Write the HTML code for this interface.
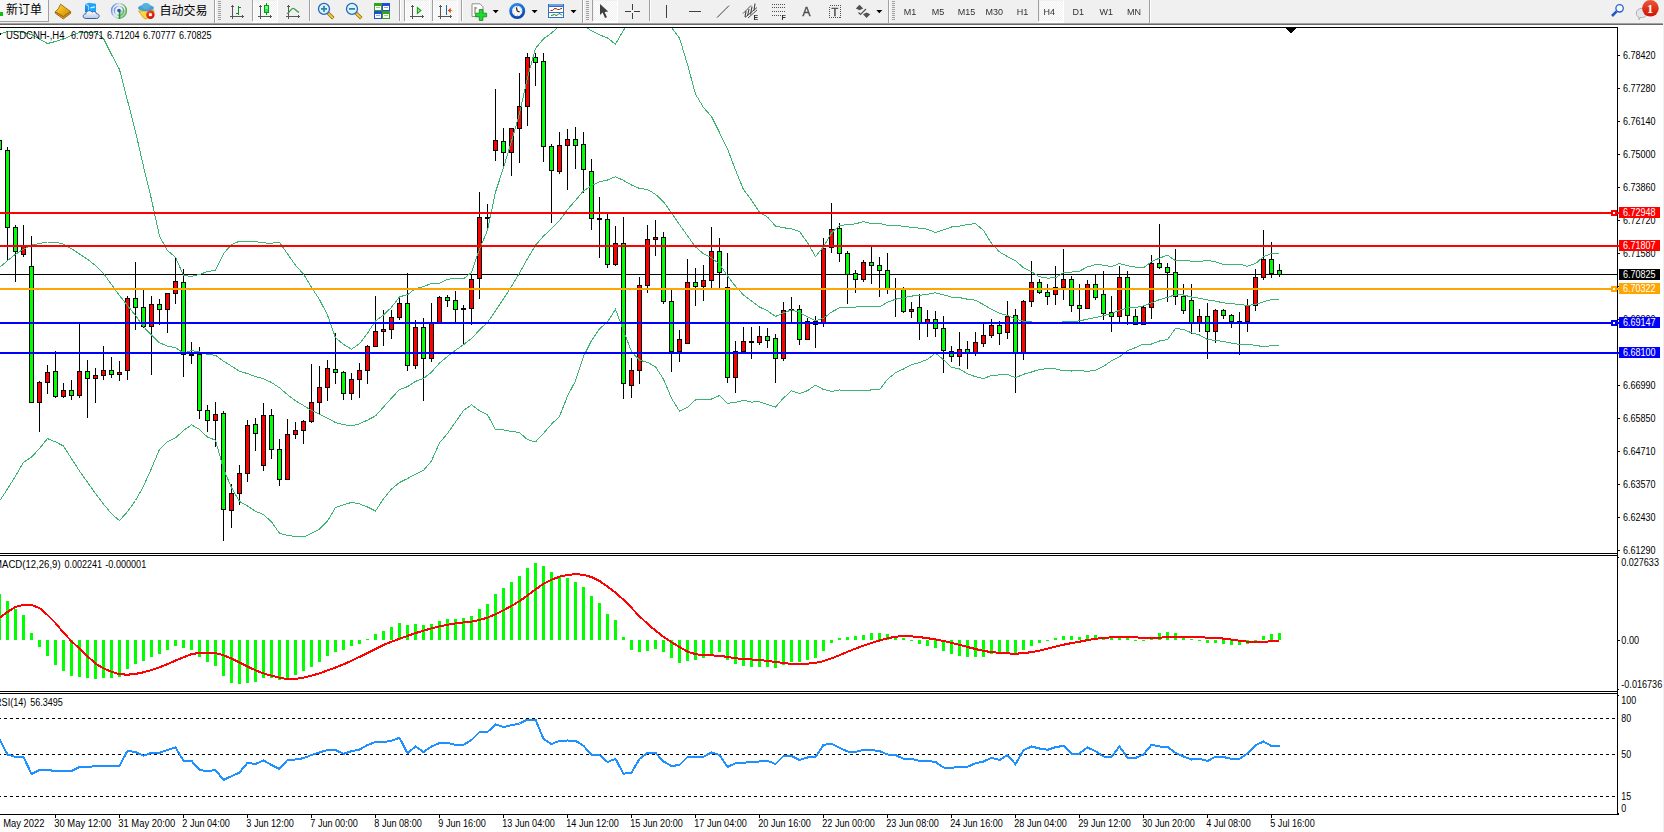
<!DOCTYPE html>
<html><head><meta charset="utf-8"><title>USDCNH H4</title>
<style>
html,body{margin:0;padding:0;background:#fff;}
body{width:1664px;height:832px;overflow:hidden;font-family:"Liberation Sans","Noto Sans CJK SC",sans-serif;}
svg{display:block}
svg text{font-family:"Liberation Sans","Noto Sans CJK SC",sans-serif;}
</style></head><body>
<svg width="1664" height="832" viewBox="0 0 1664 832">
<defs>
<clipPath id="cmain"><rect x="0" y="28" width="1617" height="525"/></clipPath>
<clipPath id="cmacd"><rect x="0" y="556" width="1617" height="135"/></clipPath>
<pattern id="chk" width="2" height="2" patternUnits="userSpaceOnUse"><rect width="2" height="2" fill="#F0F0F0"/><rect width="1" height="1" fill="#FFFFFF"/><rect x="1" y="1" width="1" height="1" fill="#FFFFFF"/></pattern>
<clipPath id="crsi"><rect x="0" y="694" width="1617" height="120"/></clipPath>
</defs>
<rect x="0" y="0" width="1664" height="832" fill="#fff"/>
<rect x="0" y="0" width="1664" height="23" fill="#F0F0F0"/>
<rect x="0" y="23" width="1664" height="1" fill="#A0A0A0"/>
<rect x="0" y="24" width="1664" height="1" fill="#696969"/>
<rect x="0" y="25" width="1664" height="2" fill="#FFFFFF"/>
<g shape-rendering="crispEdges">
<rect x="-2" y="0" width="50" height="21" fill="#F6F6F6"/>
<rect x="48" y="0" width="1" height="22" fill="#A0A0A0"/>
<rect x="0" y="21" width="49" height="1" fill="#A0A0A0"/>
<rect x="0" y="12" width="3" height="4" fill="#10C010"/>
<rect x="214" y="0" width="1" height="23" fill="#A0A0A0"/>
<rect x="215" y="0" width="1" height="23" fill="#FFFFFF"/>
<rect x="218" y="1" width="3" height="1" fill="#A0A0A0"/>
<rect x="218" y="3" width="3" height="1" fill="#A0A0A0"/>
<rect x="218" y="5" width="3" height="1" fill="#A0A0A0"/>
<rect x="218" y="7" width="3" height="1" fill="#A0A0A0"/>
<rect x="218" y="9" width="3" height="1" fill="#A0A0A0"/>
<rect x="218" y="11" width="3" height="1" fill="#A0A0A0"/>
<rect x="218" y="13" width="3" height="1" fill="#A0A0A0"/>
<rect x="218" y="15" width="3" height="1" fill="#A0A0A0"/>
<rect x="218" y="17" width="3" height="1" fill="#A0A0A0"/>
<rect x="218" y="19" width="3" height="1" fill="#A0A0A0"/>
<rect x="252" y="0" width="1" height="21" fill="#A0A0A0"/>
<rect x="253" y="0" width="1" height="21" fill="#FFFFFF"/>
<rect x="254" y="1" width="23" height="20" fill="url(#chk)"/>
<rect x="277" y="0" width="1" height="23" fill="#FFFFFF"/>
<rect x="253" y="21" width="25" height="2" fill="#FFFFFF"/>
<rect x="309" y="0" width="1" height="21" fill="#A0A0A0"/>
<rect x="310" y="0" width="1" height="21" fill="#FFFFFF"/>
<rect x="399" y="0" width="1" height="21" fill="#A0A0A0"/>
<rect x="400" y="0" width="1" height="21" fill="#FFFFFF"/>
<rect x="404" y="0" width="1" height="21" fill="#A0A0A0"/>
<rect x="405" y="0" width="1" height="21" fill="#FFFFFF"/>
<rect x="406" y="1" width="23" height="20" fill="url(#chk)"/>
<rect x="429" y="0" width="1" height="23" fill="#FFFFFF"/>
<rect x="405" y="21" width="25" height="2" fill="#FFFFFF"/>
<rect x="432" y="0" width="1" height="21" fill="#A0A0A0"/>
<rect x="433" y="0" width="1" height="21" fill="#FFFFFF"/>
<rect x="434" y="1" width="23" height="20" fill="url(#chk)"/>
<rect x="457" y="0" width="1" height="23" fill="#FFFFFF"/>
<rect x="433" y="21" width="25" height="2" fill="#FFFFFF"/>
<rect x="461" y="0" width="1" height="21" fill="#A0A0A0"/>
<rect x="462" y="0" width="1" height="21" fill="#FFFFFF"/>
<rect x="582" y="0" width="1" height="23" fill="#A0A0A0"/>
<rect x="583" y="0" width="1" height="23" fill="#FFFFFF"/>
<rect x="586" y="1" width="3" height="1" fill="#A0A0A0"/>
<rect x="586" y="3" width="3" height="1" fill="#A0A0A0"/>
<rect x="586" y="5" width="3" height="1" fill="#A0A0A0"/>
<rect x="586" y="7" width="3" height="1" fill="#A0A0A0"/>
<rect x="586" y="9" width="3" height="1" fill="#A0A0A0"/>
<rect x="586" y="11" width="3" height="1" fill="#A0A0A0"/>
<rect x="586" y="13" width="3" height="1" fill="#A0A0A0"/>
<rect x="586" y="15" width="3" height="1" fill="#A0A0A0"/>
<rect x="586" y="17" width="3" height="1" fill="#A0A0A0"/>
<rect x="586" y="19" width="3" height="1" fill="#A0A0A0"/>
<rect x="592" y="0" width="1" height="21" fill="#A0A0A0"/>
<rect x="594" y="1" width="23" height="20" fill="url(#chk)"/>
<rect x="617" y="0" width="1" height="23" fill="#FFFFFF"/>
<rect x="593" y="21" width="25" height="2" fill="#FFFFFF"/>
<rect x="649" y="0" width="1" height="21" fill="#A0A0A0"/>
<rect x="650" y="0" width="1" height="21" fill="#FFFFFF"/>
<rect x="888" y="0" width="1" height="23" fill="#A0A0A0"/>
<rect x="889" y="0" width="1" height="23" fill="#FFFFFF"/>
<rect x="892" y="1" width="3" height="1" fill="#A0A0A0"/>
<rect x="892" y="3" width="3" height="1" fill="#A0A0A0"/>
<rect x="892" y="5" width="3" height="1" fill="#A0A0A0"/>
<rect x="892" y="7" width="3" height="1" fill="#A0A0A0"/>
<rect x="892" y="9" width="3" height="1" fill="#A0A0A0"/>
<rect x="892" y="11" width="3" height="1" fill="#A0A0A0"/>
<rect x="892" y="13" width="3" height="1" fill="#A0A0A0"/>
<rect x="892" y="15" width="3" height="1" fill="#A0A0A0"/>
<rect x="892" y="17" width="3" height="1" fill="#A0A0A0"/>
<rect x="892" y="19" width="3" height="1" fill="#A0A0A0"/>
<rect x="1038" y="0" width="1" height="21" fill="#A0A0A0"/>
<rect x="1040" y="1" width="23" height="20" fill="url(#chk)"/>
<rect x="1063" y="0" width="1" height="23" fill="#FFFFFF"/>
<rect x="1039" y="21" width="25" height="2" fill="#FFFFFF"/>
<rect x="1149" y="0" width="1" height="23" fill="#A0A0A0"/>
<rect x="1150" y="0" width="1" height="23" fill="#FFFFFF"/>
</g>
<defs><filter id="idf" x="-0.2" y="-0.2" width="1.4" height="1.4" filterUnits="objectBoundingBox"><feOffset dx="0" dy="0"/></filter></defs>
<text x="6" y="13.5" font-size="12" fill="#000">新订单</text>
<text x="159.5" y="14.5" font-size="12" fill="#000">自动交易</text>
<defs><linearGradient id="gold" x1="0" y1="0" x2="1" y2="1"><stop offset="0" stop-color="#FFE060"/><stop offset="0.5" stop-color="#E8B010"/><stop offset="1" stop-color="#C88A10"/></linearGradient><linearGradient id="cloudg" x1="0" y1="0" x2="0" y2="1"><stop offset="0" stop-color="#FFFFFF"/><stop offset="1" stop-color="#B8C8E0"/></linearGradient><linearGradient id="blueg" x1="0" y1="0" x2="0" y2="1"><stop offset="0" stop-color="#30A8FF"/><stop offset="1" stop-color="#0080F0"/></linearGradient><radialGradient id="redg" cx="0.4" cy="0.35" r="0.7"><stop offset="0" stop-color="#FF5030"/><stop offset="1" stop-color="#C01000"/></radialGradient><linearGradient id="grn" x1="0" y1="0" x2="1" y2="0"><stop offset="0" stop-color="#20D030"/><stop offset="0.5" stop-color="#90FF90"/><stop offset="1" stop-color="#20D030"/></linearGradient></defs>
<path d="M55.3,13.2 L63.3,18.9 L70.6,13.4 L70.6,11.6 L63.3,16.8 L55.3,11.6 Z" fill="#D8A028" stroke="#9A5C08" stroke-width="0.9"/>
<path d="M60.6,4.2 L70.4,11.4 L63.3,16.6 L55.4,11.8 Q58.6,9.5 60.6,4.2 Z" fill="url(#gold)" stroke="#A0640A" stroke-width="0.9"/>
<path d="M85,4 L89,2.8 L96,3.8 L96,12 L85,12 Z" fill="url(#blueg)"/>
<path d="M85.4,4.4 L88.4,5.6 L88.4,12" fill="none" stroke="#D0F0FF" stroke-width="0.9"/>
<path d="M88.8,5.8 L96,4.6 L96,12 L88.8,12 Z" fill="#18A8FF"/><path d="M90.5,7.8 L94.8,6.8" stroke="#E0F4FF" stroke-width="1.3"/>
<path d="M85.8,18.5 C82.3,18.5 82.3,14 85.8,13.8 C86,10.6 90.6,9.6 92,12.2 C93.6,10.8 96.6,11.6 96.4,13.8 C99.9,13.4 100.2,18.5 96.6,18.5 Z" fill="url(#cloudg)" stroke="#3A60A8" stroke-width="1"/>
<defs><linearGradient id="sigg" x1="0" y1="0" x2="1" y2="0.35"><stop offset="0" stop-color="#2C5CD8"/><stop offset="0.45" stop-color="#C8DCF0"/><stop offset="1" stop-color="#3E9A48"/></linearGradient></defs>
<g fill="none" stroke="url(#sigg)" stroke-width="1.5"><circle cx="119" cy="10.8" r="7.4" opacity="0.85"/><circle cx="119" cy="10.8" r="4.6" opacity="0.8"/></g>
<path d="M119.6,11 L126.6,9.5 A7.6,7.6 0 0 1 119.6,18.6 Z" fill="#7CC080" opacity="0.55"/>
<rect x="118.8" y="11" width="1.5" height="7.8" fill="#18A018"/>
<circle cx="119" cy="10.6" r="1.8" fill="#2456D8"/>
<path d="M138.5,11 L154,10.5 L153.5,14 L146,19 L144,18.5 Z" fill="#F8D840" stroke="#C8A010" stroke-width="0.8"/>
<ellipse cx="146" cy="8" rx="8" ry="3.2" fill="#48A0D0"/><ellipse cx="146" cy="6" rx="4" ry="3" fill="#58B0E0"/>
<circle cx="150.4" cy="14.7" r="4.2" fill="url(#redg)"/><rect x="149" y="13.3" width="2.8" height="2.8" fill="#fff"/>
<g shape-rendering="crispEdges">
<g fill="#555555"><rect x="232" y="5" width="1" height="14"/><rect x="231" y="6" width="3" height="1"/><rect x="230" y="16" width="14" height="1"/><rect x="242" y="15" width="1" height="3"/></g>
<g fill="#109020"><rect x="238" y="6" width="1" height="9"/><rect x="239" y="7" width="2" height="1"/><rect x="236" y="13" width="2" height="1"/></g>
<g fill="#555555"><rect x="260" y="5" width="1" height="14"/><rect x="259" y="6" width="3" height="1"/><rect x="258" y="16" width="14" height="1"/><rect x="270" y="15" width="1" height="3"/></g>
<rect x="266" y="3" width="1" height="12" fill="#00A010"/><rect x="264" y="5" width="5" height="8" fill="#00A010"/><rect x="265" y="6" width="3" height="3" fill="#78F888"/><rect x="265" y="9" width="3" height="3" fill="#30E850"/>
<g fill="#555555"><rect x="288" y="5" width="1" height="14"/><rect x="287" y="6" width="3" height="1"/><rect x="286" y="16" width="14" height="1"/><rect x="298" y="15" width="1" height="3"/></g>
</g>
<path d="M287,13.8 C290,12 291,8.3 293,8.3 C295,8.3 296,11 299,12.3" fill="none" stroke="#30A040" stroke-width="1.3"/>
<line x1="328" y1="13" x2="333.3" y2="18.3" stroke="#A07008" stroke-width="3.4" stroke-linecap="butt"/>
<line x1="328.3" y1="13.3" x2="332.8" y2="17.8" stroke="#F0D040" stroke-width="1.8"/>
<circle cx="324" cy="8.9" r="5.5" fill="#D8F4FF" stroke="#2868B8" stroke-width="1.3"/>
<rect x="321" y="8" width="6" height="1.8" fill="#3880A8"/>
<rect x="323.1" y="5.9" width="1.8" height="6" fill="#3880A8"/>
<line x1="356" y1="13" x2="361.3" y2="18.3" stroke="#A07008" stroke-width="3.4" stroke-linecap="butt"/>
<line x1="356.3" y1="13.3" x2="360.8" y2="17.8" stroke="#F0D040" stroke-width="1.8"/>
<circle cx="352" cy="8.9" r="5.5" fill="#D8F4FF" stroke="#2868B8" stroke-width="1.3"/>
<rect x="349" y="8" width="6" height="1.8" fill="#3880A8"/>
<g shape-rendering="crispEdges">
<rect x="374" y="3" width="8" height="8" fill="#38A020"/><rect x="375" y="6" width="6" height="4" fill="#fff"/><rect x="376" y="7" width="4" height="1" fill="#38A020" opacity="0.5"/>
<rect x="382" y="3" width="8" height="8" fill="#2050D0"/><rect x="383" y="6" width="6" height="4" fill="#fff"/><rect x="384" y="7" width="4" height="1" fill="#2050D0" opacity="0.5"/>
<rect x="374" y="11" width="8" height="8" fill="#2050D0"/><rect x="375" y="14" width="6" height="4" fill="#fff"/><rect x="376" y="15" width="4" height="1" fill="#2050D0" opacity="0.5"/>
<rect x="382" y="11" width="8" height="8" fill="#38A020"/><rect x="383" y="14" width="6" height="4" fill="#fff"/><rect x="384" y="15" width="4" height="1" fill="#38A020" opacity="0.5"/>
<g fill="#555555"><rect x="412" y="5" width="1" height="14"/><rect x="411" y="6" width="3" height="1"/><rect x="410" y="16" width="14" height="1"/><rect x="422" y="15" width="1" height="3"/></g>
<g fill="#555555"><rect x="440" y="5" width="1" height="14"/><rect x="439" y="6" width="3" height="1"/><rect x="438" y="16" width="14" height="1"/><rect x="450" y="15" width="1" height="3"/></g>
<rect x="446" y="5" width="1" height="10" fill="#1070A0"/>
</g>
<polygon points="417.4,7.6 420.8,10.5 417.4,13.4" fill="#A8F0A8" stroke="#10A010" stroke-width="1.1"/>
<polygon points="447.8,10.5 451,7.8 450.5,10 453,10.5 450.5,11 451,13.2" fill="#E04000"/>
<path d="M472,3.8 L480,3.8 L483,6.8 L483,16.5 L472,16.5 Z" fill="#FCFCFC" stroke="#909090" stroke-width="1"/>
<path d="M475,7 v7 M475,8 h2" stroke="#605030" stroke-width="0.8" fill="none"/>
<path d="M479.3,9.5 h3.6 v3.7 h3.7 v3.6 h-3.7 v3.7 h-3.6 v-3.7 h-3.7 v-3.6 h3.7 Z" fill="#20D830" stroke="#108818" stroke-width="0.8"/>
<polygon points="492.7,10 498.7,10 495.7,13.2" fill="#000"/>
<defs><linearGradient id="clk" x1="0" y1="0" x2="0.3" y2="1"><stop offset="0" stop-color="#2C8CF0"/><stop offset="1" stop-color="#0A48B0"/></linearGradient></defs>
<circle cx="517.2" cy="11" r="6.6" fill="#FCFCFC" stroke="url(#clk)" stroke-width="2.8"/>
<g fill="#9098A8"><rect x="516.8" y="6.2" width="0.9" height="1"/><rect x="516.8" y="14.8" width="0.9" height="1"/><rect x="512.6" y="10.6" width="1" height="0.9"/><rect x="520.9" y="10.6" width="1" height="0.9"/><rect x="514" y="7.6" width="0.8" height="0.8"/><rect x="519.8" y="7.6" width="0.8" height="0.8"/><rect x="514" y="13.6" width="0.8" height="0.8"/><rect x="519.8" y="13.6" width="0.8" height="0.8"/></g>
<path d="M517.2,11.2 L516.4,7.4 M517.2,11.2 L519.6,11.8" stroke="#282828" stroke-width="1.3" fill="none"/>
<polygon points="531.6,10 537.6,10 534.6,13.2" fill="#000"/>
<g shape-rendering="crispEdges"><rect x="548" y="4" width="16" height="14" fill="#3070C0"/><rect x="549" y="4" width="14" height="2" fill="#70A0E0"/><rect x="549" y="7" width="14" height="5" fill="#fff"/><rect x="549" y="13" width="14" height="4" fill="#fff"/></g>
<path d="M550.5,10.5 L552.5,10.5 L554,8.8 L556,8.5 L557.5,9.5 L559.5,9.5 L561,8.5 L562,8.5" stroke="#A02000" stroke-width="1" fill="none"/>
<path d="M551,15.5 L553,15 L554.5,14.5 L556,15.5 L557.5,15 L559,13.5 L560.5,14 L562,15.5" stroke="#108020" stroke-width="1" fill="none"/>
<polygon points="570.5,10 576.5,10 573.5,13.2" fill="#000"/>
<polygon points="600,4 600,15 602.6,12.6 605,18 607,17.2 604.6,11.9 608.2,11.6" fill="#404040"/>
<g shape-rendering="crispEdges" fill="#404040"><rect x="625" y="11" width="6" height="1"/><rect x="634" y="11" width="6" height="1"/><rect x="632" y="4" width="1" height="6"/><rect x="632" y="13" width="1" height="6"/>
<rect x="666" y="5" width="1" height="13" />
<rect x="689" y="11" width="12" height="1"/></g>
<line x1="717" y1="17.6" x2="729" y2="5.6" stroke="#404040" stroke-width="1"/>
<g stroke="#404040" stroke-width="0.9" fill="none"><path d="M743,13.5 L751,5.5 M745,17.5 L757,7.5 M748,18 L757,10"/><path d="M746,11 l-1,6 M749,9 l-1.5,7 M752,6.5 l-1.5,8 M755,3.5 l-1,7" stroke-width="1.1"/></g>
<g filter="url(#idf)"><text x="753.5" y="20" font-size="7" font-weight="bold" fill="#303030">E</text></g>
<g stroke="#505050" stroke-width="1" stroke-dasharray="1 1" shape-rendering="crispEdges"><line x1="772" x2="785" y1="4.5" y2="4.5"/><line x1="772" x2="785" y1="7.5" y2="7.5"/><line x1="772" x2="785" y1="11.5" y2="11.5"/><line x1="772" x2="781" y1="15.5" y2="15.5"/></g>
<g filter="url(#idf)"><text x="781.5" y="19.8" font-size="7" font-weight="bold" fill="#303030">F</text></g>
<g filter="url(#idf)"><text x="802.6" y="15.9" font-size="12" fill="#505050" stroke="#505050" stroke-width="0.45">A</text></g>
<rect x="829.5" y="5.5" width="11" height="12" fill="none" stroke="#505050" stroke-width="1" stroke-dasharray="1 1" shape-rendering="crispEdges"/>
<g filter="url(#idf)"><text x="831.4" y="15.8" font-size="11" fill="#505050" stroke="#505050" stroke-width="0.5">T</text></g>
<polygon points="855.8,8.6 859.5,4.8 863.2,8.6 859.5,10.2" fill="#505050"/><polygon points="863,14.2 866.6,12.6 870.2,14.2 866.6,18" fill="#505050"/><path d="M858.5,12.5 L860.5,14.5 L866,9" stroke="#505050" stroke-width="1.2" fill="none"/>
<polygon points="876.3,10 882.3,10 879.3,13.2" fill="#000"/>
<g filter="url(#idf)">
<text transform="translate(903.7,14.7) scale(0.95,1)" font-size="9.5" fill="#303030">M1</text>
<text transform="translate(931.8,14.7) scale(0.95,1)" font-size="9.5" fill="#303030">M5</text>
<text transform="translate(957.8,14.7) scale(0.95,1)" font-size="9.5" fill="#303030">M15</text>
<text transform="translate(985.6,14.7) scale(0.95,1)" font-size="9.5" fill="#303030">M30</text>
<text transform="translate(1016.8,14.7) scale(0.95,1)" font-size="9.5" fill="#303030">H1</text>
<text transform="translate(1043.5,14.7) scale(0.95,1)" font-size="9.5" fill="#303030">H4</text>
<text transform="translate(1072.5,14.7) scale(0.95,1)" font-size="9.5" fill="#303030">D1</text>
<text transform="translate(1099.5,14.7) scale(0.95,1)" font-size="9.5" fill="#303030">W1</text>
<text transform="translate(1127,14.7) scale(0.95,1)" font-size="9.5" fill="#303030">MN</text>
</g>
<line x1="1616.6" y1="11.4" x2="1612" y2="16" stroke="#2058C8" stroke-width="2.6"/>
<circle cx="1619.6" cy="8.3" r="3.7" fill="#F8F8FF" stroke="#2860D0" stroke-width="1.3"/>
<path d="M1636.3,13 a5.4,4.6 0 1 1 6.2,4.5 l-2.6,0 l-0.6,2.2 l-0.9,-2.6 a5.4,4.6 0 0 1 -2.1,-4.1 Z" fill="#E4E4EE" stroke="#A8A8A8" stroke-width="0.9"/>
<defs><linearGradient id="badge" x1="0" y1="0" x2="0" y2="1"><stop offset="0" stop-color="#EC5838"/><stop offset="1" stop-color="#D01000"/></linearGradient></defs>
<circle cx="1650.4" cy="8.3" r="8.3" fill="url(#badge)"/>
<text x="1650.2" y="13" font-size="12.5" font-weight="bold" fill="#fff" text-anchor="middle" font-family="Liberation Serif, serif" style="font-family:'Liberation Serif',serif">1</text>
<g clip-path="url(#cmain)" shape-rendering="crispEdges">
<rect x="0" y="274" width="1618" height="1" fill="#000"/>
<rect x="-1" y="140" width="1" height="10" fill="#000"/>
<rect x="-3" y="140" width="5" height="10" fill="#000"/>
<rect x="-2" y="141" width="3" height="8" fill="#00FF00"/>
<rect x="7" y="147" width="1" height="114" fill="#000"/>
<rect x="5" y="150" width="5" height="78" fill="#000"/>
<rect x="6" y="151" width="3" height="76" fill="#00FF00"/>
<rect x="15" y="225" width="1" height="57" fill="#000"/>
<rect x="13" y="227" width="5" height="25" fill="#000"/>
<rect x="14" y="228" width="3" height="23" fill="#00FF00"/>
<rect x="23" y="225" width="1" height="32" fill="#000"/>
<rect x="21" y="246" width="5" height="9" fill="#000"/>
<rect x="22" y="247" width="3" height="7" fill="#FF0000"/>
<rect x="31" y="236" width="1" height="167" fill="#000"/>
<rect x="29" y="266" width="5" height="137" fill="#000"/>
<rect x="30" y="267" width="3" height="135" fill="#00FF00"/>
<rect x="39" y="381" width="1" height="51" fill="#000"/>
<rect x="37" y="382" width="5" height="21" fill="#000"/>
<rect x="38" y="383" width="3" height="19" fill="#FF0000"/>
<rect x="47" y="365" width="1" height="29" fill="#000"/>
<rect x="45" y="372" width="5" height="11" fill="#000"/>
<rect x="46" y="373" width="3" height="9" fill="#FF0000"/>
<rect x="55" y="351" width="1" height="47" fill="#000"/>
<rect x="53" y="371" width="5" height="26" fill="#000"/>
<rect x="54" y="372" width="3" height="24" fill="#00FF00"/>
<rect x="63" y="383" width="1" height="15" fill="#000"/>
<rect x="61" y="390" width="5" height="7" fill="#000"/>
<rect x="62" y="391" width="3" height="5" fill="#FF0000"/>
<rect x="71" y="380" width="1" height="20" fill="#000"/>
<rect x="69" y="390" width="5" height="6" fill="#000"/>
<rect x="70" y="391" width="3" height="4" fill="#00FF00"/>
<rect x="79" y="323" width="1" height="75" fill="#000"/>
<rect x="77" y="371" width="5" height="25" fill="#000"/>
<rect x="78" y="372" width="3" height="23" fill="#FF0000"/>
<rect x="87" y="360" width="1" height="58" fill="#000"/>
<rect x="85" y="371" width="5" height="8" fill="#000"/>
<rect x="86" y="372" width="3" height="6" fill="#00FF00"/>
<rect x="95" y="368" width="1" height="35" fill="#000"/>
<rect x="93" y="375" width="5" height="4" fill="#000"/>
<rect x="94" y="376" width="3" height="2" fill="#FF0000"/>
<rect x="103" y="346" width="1" height="34" fill="#000"/>
<rect x="101" y="370" width="5" height="6" fill="#000"/>
<rect x="102" y="371" width="3" height="4" fill="#FF0000"/>
<rect x="111" y="357" width="1" height="21" fill="#000"/>
<rect x="109" y="370" width="5" height="5" fill="#000"/>
<rect x="110" y="371" width="3" height="3" fill="#00FF00"/>
<rect x="119" y="361" width="1" height="20" fill="#000"/>
<rect x="117" y="372" width="5" height="3" fill="#000"/>
<rect x="118" y="373" width="3" height="1" fill="#FF0000"/>
<rect x="127" y="296" width="1" height="84" fill="#000"/>
<rect x="125" y="298" width="5" height="73" fill="#000"/>
<rect x="126" y="299" width="3" height="71" fill="#FF0000"/>
<rect x="135" y="262" width="1" height="68" fill="#000"/>
<rect x="133" y="298" width="5" height="10" fill="#000"/>
<rect x="134" y="299" width="3" height="8" fill="#00FF00"/>
<rect x="143" y="290" width="1" height="38" fill="#000"/>
<rect x="141" y="307" width="5" height="20" fill="#000"/>
<rect x="142" y="308" width="3" height="18" fill="#00FF00"/>
<rect x="151" y="296" width="1" height="79" fill="#000"/>
<rect x="149" y="304" width="5" height="23" fill="#000"/>
<rect x="150" y="305" width="3" height="21" fill="#FF0000"/>
<rect x="159" y="299" width="1" height="26" fill="#000"/>
<rect x="157" y="304" width="5" height="6" fill="#000"/>
<rect x="158" y="305" width="3" height="4" fill="#00FF00"/>
<rect x="167" y="293" width="1" height="40" fill="#000"/>
<rect x="165" y="293" width="5" height="17" fill="#000"/>
<rect x="166" y="294" width="3" height="15" fill="#FF0000"/>
<rect x="175" y="258" width="1" height="46" fill="#000"/>
<rect x="173" y="281" width="5" height="13" fill="#000"/>
<rect x="174" y="282" width="3" height="11" fill="#FF0000"/>
<rect x="183" y="269" width="1" height="108" fill="#000"/>
<rect x="181" y="282" width="5" height="73" fill="#000"/>
<rect x="182" y="283" width="3" height="71" fill="#00FF00"/>
<rect x="191" y="342" width="1" height="22" fill="#000"/>
<rect x="189" y="354" width="5" height="2" fill="#000"/>
<rect x="199" y="347" width="1" height="72" fill="#000"/>
<rect x="197" y="354" width="5" height="57" fill="#000"/>
<rect x="198" y="355" width="3" height="55" fill="#00FF00"/>
<rect x="207" y="405" width="1" height="27" fill="#000"/>
<rect x="205" y="410" width="5" height="11" fill="#000"/>
<rect x="206" y="411" width="3" height="9" fill="#00FF00"/>
<rect x="215" y="402" width="1" height="45" fill="#000"/>
<rect x="213" y="414" width="5" height="7" fill="#000"/>
<rect x="214" y="415" width="3" height="5" fill="#FF0000"/>
<rect x="223" y="411" width="1" height="130" fill="#000"/>
<rect x="221" y="413" width="5" height="97" fill="#000"/>
<rect x="222" y="414" width="3" height="95" fill="#00FF00"/>
<rect x="231" y="484" width="1" height="44" fill="#000"/>
<rect x="229" y="493" width="5" height="18" fill="#000"/>
<rect x="230" y="494" width="3" height="16" fill="#FF0000"/>
<rect x="239" y="465" width="1" height="40" fill="#000"/>
<rect x="237" y="473" width="5" height="21" fill="#000"/>
<rect x="238" y="474" width="3" height="19" fill="#FF0000"/>
<rect x="247" y="420" width="1" height="62" fill="#000"/>
<rect x="245" y="425" width="5" height="49" fill="#000"/>
<rect x="246" y="426" width="3" height="47" fill="#FF0000"/>
<rect x="255" y="418" width="1" height="33" fill="#000"/>
<rect x="253" y="424" width="5" height="10" fill="#000"/>
<rect x="254" y="425" width="3" height="8" fill="#00FF00"/>
<rect x="263" y="403" width="1" height="68" fill="#000"/>
<rect x="261" y="415" width="5" height="51" fill="#000"/>
<rect x="262" y="416" width="3" height="49" fill="#FF0000"/>
<rect x="271" y="409" width="1" height="50" fill="#000"/>
<rect x="269" y="415" width="5" height="35" fill="#000"/>
<rect x="270" y="416" width="3" height="33" fill="#00FF00"/>
<rect x="279" y="439" width="1" height="47" fill="#000"/>
<rect x="277" y="449" width="5" height="31" fill="#000"/>
<rect x="278" y="450" width="3" height="29" fill="#00FF00"/>
<rect x="287" y="419" width="1" height="61" fill="#000"/>
<rect x="285" y="434" width="5" height="46" fill="#000"/>
<rect x="286" y="435" width="3" height="44" fill="#FF0000"/>
<rect x="295" y="422" width="1" height="17" fill="#000"/>
<rect x="293" y="430" width="5" height="5" fill="#000"/>
<rect x="294" y="431" width="3" height="3" fill="#FF0000"/>
<rect x="303" y="420" width="1" height="24" fill="#000"/>
<rect x="301" y="421" width="5" height="10" fill="#000"/>
<rect x="302" y="422" width="3" height="8" fill="#FF0000"/>
<rect x="311" y="364" width="1" height="59" fill="#000"/>
<rect x="309" y="402" width="5" height="20" fill="#000"/>
<rect x="310" y="403" width="3" height="18" fill="#FF0000"/>
<rect x="319" y="366" width="1" height="48" fill="#000"/>
<rect x="317" y="387" width="5" height="16" fill="#000"/>
<rect x="318" y="388" width="3" height="14" fill="#FF0000"/>
<rect x="327" y="360" width="1" height="41" fill="#000"/>
<rect x="325" y="368" width="5" height="20" fill="#000"/>
<rect x="326" y="369" width="3" height="18" fill="#FF0000"/>
<rect x="335" y="333" width="1" height="51" fill="#000"/>
<rect x="333" y="369" width="5" height="4" fill="#000"/>
<rect x="334" y="370" width="3" height="2" fill="#00FF00"/>
<rect x="343" y="371" width="1" height="29" fill="#000"/>
<rect x="341" y="372" width="5" height="22" fill="#000"/>
<rect x="342" y="373" width="3" height="20" fill="#00FF00"/>
<rect x="351" y="373" width="1" height="27" fill="#000"/>
<rect x="349" y="379" width="5" height="15" fill="#000"/>
<rect x="350" y="380" width="3" height="13" fill="#FF0000"/>
<rect x="359" y="363" width="1" height="35" fill="#000"/>
<rect x="357" y="370" width="5" height="10" fill="#000"/>
<rect x="358" y="371" width="3" height="8" fill="#FF0000"/>
<rect x="367" y="345" width="1" height="39" fill="#000"/>
<rect x="365" y="346" width="5" height="25" fill="#000"/>
<rect x="366" y="347" width="3" height="23" fill="#FF0000"/>
<rect x="375" y="296" width="1" height="51" fill="#000"/>
<rect x="373" y="331" width="5" height="16" fill="#000"/>
<rect x="374" y="332" width="3" height="14" fill="#FF0000"/>
<rect x="383" y="310" width="1" height="36" fill="#000"/>
<rect x="381" y="329" width="5" height="3" fill="#000"/>
<rect x="382" y="330" width="3" height="1" fill="#FF0000"/>
<rect x="391" y="310" width="1" height="29" fill="#000"/>
<rect x="389" y="317" width="5" height="13" fill="#000"/>
<rect x="390" y="318" width="3" height="11" fill="#FF0000"/>
<rect x="399" y="296" width="1" height="24" fill="#000"/>
<rect x="397" y="303" width="5" height="15" fill="#000"/>
<rect x="398" y="304" width="3" height="13" fill="#FF0000"/>
<rect x="407" y="273" width="1" height="98" fill="#000"/>
<rect x="405" y="303" width="5" height="63" fill="#000"/>
<rect x="406" y="304" width="3" height="61" fill="#00FF00"/>
<rect x="415" y="320" width="1" height="49" fill="#000"/>
<rect x="413" y="327" width="5" height="39" fill="#000"/>
<rect x="414" y="328" width="3" height="37" fill="#FF0000"/>
<rect x="423" y="318" width="1" height="83" fill="#000"/>
<rect x="421" y="327" width="5" height="32" fill="#000"/>
<rect x="422" y="328" width="3" height="30" fill="#00FF00"/>
<rect x="431" y="303" width="1" height="59" fill="#000"/>
<rect x="429" y="322" width="5" height="37" fill="#000"/>
<rect x="430" y="323" width="3" height="35" fill="#FF0000"/>
<rect x="439" y="296" width="1" height="27" fill="#000"/>
<rect x="437" y="297" width="5" height="26" fill="#000"/>
<rect x="438" y="298" width="3" height="24" fill="#FF0000"/>
<rect x="447" y="295" width="1" height="12" fill="#000"/>
<rect x="445" y="297" width="5" height="4" fill="#000"/>
<rect x="446" y="298" width="3" height="2" fill="#00FF00"/>
<rect x="455" y="291" width="1" height="31" fill="#000"/>
<rect x="453" y="300" width="5" height="10" fill="#000"/>
<rect x="454" y="301" width="3" height="8" fill="#00FF00"/>
<rect x="463" y="305" width="1" height="40" fill="#000"/>
<rect x="461" y="308" width="5" height="2" fill="#000"/>
<rect x="471" y="274" width="1" height="51" fill="#000"/>
<rect x="469" y="279" width="5" height="30" fill="#000"/>
<rect x="470" y="280" width="3" height="28" fill="#FF0000"/>
<rect x="479" y="192" width="1" height="107" fill="#000"/>
<rect x="477" y="217" width="5" height="62" fill="#000"/>
<rect x="478" y="218" width="3" height="60" fill="#FF0000"/>
<rect x="487" y="204" width="1" height="24" fill="#000"/>
<rect x="485" y="217" width="5" height="2" fill="#000"/>
<rect x="495" y="89" width="1" height="72" fill="#000"/>
<rect x="493" y="140" width="5" height="11" fill="#000"/>
<rect x="494" y="141" width="3" height="9" fill="#FF0000"/>
<rect x="503" y="128" width="1" height="38" fill="#000"/>
<rect x="501" y="141" width="5" height="12" fill="#000"/>
<rect x="502" y="142" width="3" height="10" fill="#00FF00"/>
<rect x="511" y="128" width="1" height="48" fill="#000"/>
<rect x="509" y="128" width="5" height="25" fill="#000"/>
<rect x="510" y="129" width="3" height="23" fill="#FF0000"/>
<rect x="519" y="73" width="1" height="90" fill="#000"/>
<rect x="517" y="106" width="5" height="23" fill="#000"/>
<rect x="518" y="107" width="3" height="21" fill="#FF0000"/>
<rect x="527" y="53" width="1" height="73" fill="#000"/>
<rect x="525" y="57" width="5" height="50" fill="#000"/>
<rect x="526" y="58" width="3" height="48" fill="#FF0000"/>
<rect x="535" y="53" width="1" height="33" fill="#000"/>
<rect x="533" y="57" width="5" height="6" fill="#000"/>
<rect x="534" y="58" width="3" height="4" fill="#00FF00"/>
<rect x="543" y="53" width="1" height="109" fill="#000"/>
<rect x="541" y="61" width="5" height="86" fill="#000"/>
<rect x="542" y="62" width="3" height="84" fill="#00FF00"/>
<rect x="551" y="144" width="1" height="79" fill="#000"/>
<rect x="549" y="146" width="5" height="25" fill="#000"/>
<rect x="550" y="147" width="3" height="23" fill="#00FF00"/>
<rect x="559" y="132" width="1" height="42" fill="#000"/>
<rect x="557" y="145" width="5" height="27" fill="#000"/>
<rect x="558" y="146" width="3" height="25" fill="#FF0000"/>
<rect x="567" y="129" width="1" height="61" fill="#000"/>
<rect x="565" y="139" width="5" height="7" fill="#000"/>
<rect x="566" y="140" width="3" height="5" fill="#FF0000"/>
<rect x="575" y="127" width="1" height="42" fill="#000"/>
<rect x="573" y="139" width="5" height="7" fill="#000"/>
<rect x="574" y="140" width="3" height="5" fill="#00FF00"/>
<rect x="583" y="132" width="1" height="61" fill="#000"/>
<rect x="581" y="144" width="5" height="26" fill="#000"/>
<rect x="582" y="145" width="3" height="24" fill="#00FF00"/>
<rect x="591" y="159" width="1" height="71" fill="#000"/>
<rect x="589" y="171" width="5" height="48" fill="#000"/>
<rect x="590" y="172" width="3" height="46" fill="#00FF00"/>
<rect x="599" y="197" width="1" height="61" fill="#000"/>
<rect x="597" y="218" width="5" height="2" fill="#000"/>
<rect x="607" y="213" width="1" height="55" fill="#000"/>
<rect x="605" y="219" width="5" height="46" fill="#000"/>
<rect x="606" y="220" width="3" height="44" fill="#00FF00"/>
<rect x="615" y="226" width="1" height="40" fill="#000"/>
<rect x="613" y="243" width="5" height="22" fill="#000"/>
<rect x="614" y="244" width="3" height="20" fill="#FF0000"/>
<rect x="623" y="217" width="1" height="182" fill="#000"/>
<rect x="621" y="243" width="5" height="141" fill="#000"/>
<rect x="622" y="244" width="3" height="139" fill="#00FF00"/>
<rect x="631" y="358" width="1" height="40" fill="#000"/>
<rect x="629" y="370" width="5" height="16" fill="#000"/>
<rect x="630" y="371" width="3" height="14" fill="#FF0000"/>
<rect x="639" y="277" width="1" height="107" fill="#000"/>
<rect x="637" y="285" width="5" height="86" fill="#000"/>
<rect x="638" y="286" width="3" height="84" fill="#FF0000"/>
<rect x="647" y="225" width="1" height="68" fill="#000"/>
<rect x="645" y="239" width="5" height="47" fill="#000"/>
<rect x="646" y="240" width="3" height="45" fill="#FF0000"/>
<rect x="655" y="220" width="1" height="36" fill="#000"/>
<rect x="653" y="237" width="5" height="3" fill="#000"/>
<rect x="654" y="238" width="3" height="1" fill="#FF0000"/>
<rect x="663" y="232" width="1" height="72" fill="#000"/>
<rect x="661" y="237" width="5" height="65" fill="#000"/>
<rect x="662" y="238" width="3" height="63" fill="#00FF00"/>
<rect x="671" y="290" width="1" height="82" fill="#000"/>
<rect x="669" y="301" width="5" height="51" fill="#000"/>
<rect x="670" y="302" width="3" height="49" fill="#00FF00"/>
<rect x="679" y="330" width="1" height="32" fill="#000"/>
<rect x="677" y="339" width="5" height="13" fill="#000"/>
<rect x="678" y="340" width="3" height="11" fill="#FF0000"/>
<rect x="687" y="259" width="1" height="85" fill="#000"/>
<rect x="685" y="282" width="5" height="62" fill="#000"/>
<rect x="686" y="283" width="3" height="60" fill="#FF0000"/>
<rect x="695" y="268" width="1" height="38" fill="#000"/>
<rect x="693" y="282" width="5" height="5" fill="#000"/>
<rect x="694" y="283" width="3" height="3" fill="#00FF00"/>
<rect x="703" y="265" width="1" height="36" fill="#000"/>
<rect x="701" y="280" width="5" height="7" fill="#000"/>
<rect x="702" y="281" width="3" height="5" fill="#FF0000"/>
<rect x="711" y="227" width="1" height="61" fill="#000"/>
<rect x="709" y="251" width="5" height="30" fill="#000"/>
<rect x="710" y="252" width="3" height="28" fill="#FF0000"/>
<rect x="719" y="238" width="1" height="50" fill="#000"/>
<rect x="717" y="251" width="5" height="22" fill="#000"/>
<rect x="718" y="252" width="3" height="20" fill="#00FF00"/>
<rect x="727" y="253" width="1" height="130" fill="#000"/>
<rect x="725" y="287" width="5" height="91" fill="#000"/>
<rect x="726" y="288" width="3" height="89" fill="#00FF00"/>
<rect x="735" y="341" width="1" height="52" fill="#000"/>
<rect x="733" y="351" width="5" height="27" fill="#000"/>
<rect x="734" y="352" width="3" height="25" fill="#FF0000"/>
<rect x="743" y="327" width="1" height="25" fill="#000"/>
<rect x="741" y="341" width="5" height="11" fill="#000"/>
<rect x="742" y="342" width="3" height="9" fill="#FF0000"/>
<rect x="751" y="327" width="1" height="32" fill="#000"/>
<rect x="749" y="341" width="5" height="2" fill="#000"/>
<rect x="759" y="326" width="1" height="19" fill="#000"/>
<rect x="757" y="336" width="5" height="7" fill="#000"/>
<rect x="758" y="337" width="3" height="5" fill="#FF0000"/>
<rect x="767" y="328" width="1" height="20" fill="#000"/>
<rect x="765" y="336" width="5" height="5" fill="#000"/>
<rect x="766" y="337" width="3" height="3" fill="#00FF00"/>
<rect x="775" y="334" width="1" height="49" fill="#000"/>
<rect x="773" y="338" width="5" height="21" fill="#000"/>
<rect x="774" y="339" width="3" height="19" fill="#00FF00"/>
<rect x="783" y="302" width="1" height="59" fill="#000"/>
<rect x="781" y="310" width="5" height="49" fill="#000"/>
<rect x="782" y="311" width="3" height="47" fill="#FF0000"/>
<rect x="791" y="297" width="1" height="26" fill="#000"/>
<rect x="789" y="309" width="5" height="2" fill="#000"/>
<rect x="799" y="305" width="1" height="40" fill="#000"/>
<rect x="797" y="309" width="5" height="31" fill="#000"/>
<rect x="798" y="310" width="3" height="29" fill="#00FF00"/>
<rect x="807" y="318" width="1" height="22" fill="#000"/>
<rect x="805" y="321" width="5" height="19" fill="#000"/>
<rect x="806" y="322" width="3" height="17" fill="#FF0000"/>
<rect x="815" y="316" width="1" height="32" fill="#000"/>
<rect x="813" y="321" width="5" height="4" fill="#000"/>
<rect x="814" y="322" width="3" height="2" fill="#FF0000"/>
<rect x="823" y="238" width="1" height="89" fill="#000"/>
<rect x="821" y="248" width="5" height="75" fill="#000"/>
<rect x="822" y="249" width="3" height="73" fill="#FF0000"/>
<rect x="831" y="203" width="1" height="50" fill="#000"/>
<rect x="829" y="229" width="5" height="19" fill="#000"/>
<rect x="830" y="230" width="3" height="17" fill="#FF0000"/>
<rect x="839" y="223" width="1" height="39" fill="#000"/>
<rect x="837" y="228" width="5" height="26" fill="#000"/>
<rect x="838" y="229" width="3" height="24" fill="#00FF00"/>
<rect x="847" y="251" width="1" height="53" fill="#000"/>
<rect x="845" y="253" width="5" height="22" fill="#000"/>
<rect x="846" y="254" width="3" height="20" fill="#00FF00"/>
<rect x="855" y="270" width="1" height="23" fill="#000"/>
<rect x="853" y="273" width="5" height="7" fill="#000"/>
<rect x="854" y="274" width="3" height="5" fill="#00FF00"/>
<rect x="863" y="260" width="1" height="22" fill="#000"/>
<rect x="861" y="262" width="5" height="18" fill="#000"/>
<rect x="862" y="263" width="3" height="16" fill="#FF0000"/>
<rect x="871" y="247" width="1" height="37" fill="#000"/>
<rect x="869" y="262" width="5" height="4" fill="#000"/>
<rect x="870" y="263" width="3" height="2" fill="#00FF00"/>
<rect x="879" y="257" width="1" height="40" fill="#000"/>
<rect x="877" y="265" width="5" height="6" fill="#000"/>
<rect x="878" y="266" width="3" height="4" fill="#00FF00"/>
<rect x="887" y="253" width="1" height="41" fill="#000"/>
<rect x="885" y="270" width="5" height="19" fill="#000"/>
<rect x="886" y="271" width="3" height="17" fill="#00FF00"/>
<rect x="895" y="278" width="1" height="39" fill="#000"/>
<rect x="893" y="288" width="5" height="2" fill="#000"/>
<rect x="903" y="287" width="1" height="26" fill="#000"/>
<rect x="901" y="289" width="5" height="23" fill="#000"/>
<rect x="902" y="290" width="3" height="21" fill="#00FF00"/>
<rect x="911" y="302" width="1" height="16" fill="#000"/>
<rect x="909" y="309" width="5" height="3" fill="#000"/>
<rect x="910" y="310" width="3" height="1" fill="#FF0000"/>
<rect x="919" y="294" width="1" height="46" fill="#000"/>
<rect x="917" y="307" width="5" height="16" fill="#000"/>
<rect x="918" y="308" width="3" height="14" fill="#00FF00"/>
<rect x="927" y="310" width="1" height="27" fill="#000"/>
<rect x="925" y="319" width="5" height="4" fill="#000"/>
<rect x="926" y="320" width="3" height="2" fill="#FF0000"/>
<rect x="935" y="311" width="1" height="26" fill="#000"/>
<rect x="933" y="319" width="5" height="10" fill="#000"/>
<rect x="934" y="320" width="3" height="8" fill="#00FF00"/>
<rect x="943" y="316" width="1" height="57" fill="#000"/>
<rect x="941" y="328" width="5" height="23" fill="#000"/>
<rect x="942" y="329" width="3" height="21" fill="#00FF00"/>
<rect x="951" y="346" width="1" height="16" fill="#000"/>
<rect x="949" y="351" width="5" height="6" fill="#000"/>
<rect x="950" y="352" width="3" height="4" fill="#00FF00"/>
<rect x="959" y="332" width="1" height="34" fill="#000"/>
<rect x="957" y="349" width="5" height="8" fill="#000"/>
<rect x="958" y="350" width="3" height="6" fill="#FF0000"/>
<rect x="967" y="341" width="1" height="28" fill="#000"/>
<rect x="965" y="349" width="5" height="4" fill="#000"/>
<rect x="966" y="350" width="3" height="2" fill="#00FF00"/>
<rect x="975" y="332" width="1" height="24" fill="#000"/>
<rect x="973" y="342" width="5" height="11" fill="#000"/>
<rect x="974" y="343" width="3" height="9" fill="#FF0000"/>
<rect x="983" y="324" width="1" height="23" fill="#000"/>
<rect x="981" y="335" width="5" height="9" fill="#000"/>
<rect x="982" y="336" width="3" height="7" fill="#FF0000"/>
<rect x="991" y="319" width="1" height="19" fill="#000"/>
<rect x="989" y="325" width="5" height="11" fill="#000"/>
<rect x="990" y="326" width="3" height="9" fill="#FF0000"/>
<rect x="999" y="321" width="1" height="24" fill="#000"/>
<rect x="997" y="325" width="5" height="9" fill="#000"/>
<rect x="998" y="326" width="3" height="7" fill="#00FF00"/>
<rect x="1007" y="301" width="1" height="38" fill="#000"/>
<rect x="1005" y="316" width="5" height="17" fill="#000"/>
<rect x="1006" y="317" width="3" height="15" fill="#FF0000"/>
<rect x="1015" y="309" width="1" height="84" fill="#000"/>
<rect x="1013" y="315" width="5" height="38" fill="#000"/>
<rect x="1014" y="316" width="3" height="36" fill="#00FF00"/>
<rect x="1023" y="300" width="1" height="60" fill="#000"/>
<rect x="1021" y="301" width="5" height="52" fill="#000"/>
<rect x="1022" y="302" width="3" height="50" fill="#FF0000"/>
<rect x="1031" y="261" width="1" height="46" fill="#000"/>
<rect x="1029" y="282" width="5" height="20" fill="#000"/>
<rect x="1030" y="283" width="3" height="18" fill="#FF0000"/>
<rect x="1039" y="279" width="1" height="15" fill="#000"/>
<rect x="1037" y="282" width="5" height="11" fill="#000"/>
<rect x="1038" y="283" width="3" height="9" fill="#00FF00"/>
<rect x="1047" y="284" width="1" height="21" fill="#000"/>
<rect x="1045" y="292" width="5" height="5" fill="#000"/>
<rect x="1046" y="293" width="3" height="3" fill="#00FF00"/>
<rect x="1055" y="266" width="1" height="39" fill="#000"/>
<rect x="1053" y="287" width="5" height="8" fill="#000"/>
<rect x="1054" y="288" width="3" height="6" fill="#FF0000"/>
<rect x="1063" y="249" width="1" height="51" fill="#000"/>
<rect x="1061" y="279" width="5" height="9" fill="#000"/>
<rect x="1062" y="280" width="3" height="7" fill="#FF0000"/>
<rect x="1071" y="276" width="1" height="36" fill="#000"/>
<rect x="1069" y="279" width="5" height="27" fill="#000"/>
<rect x="1070" y="280" width="3" height="25" fill="#00FF00"/>
<rect x="1079" y="284" width="1" height="38" fill="#000"/>
<rect x="1077" y="305" width="5" height="4" fill="#000"/>
<rect x="1078" y="306" width="3" height="2" fill="#00FF00"/>
<rect x="1087" y="280" width="1" height="29" fill="#000"/>
<rect x="1085" y="284" width="5" height="25" fill="#000"/>
<rect x="1086" y="285" width="3" height="23" fill="#FF0000"/>
<rect x="1095" y="274" width="1" height="26" fill="#000"/>
<rect x="1093" y="284" width="5" height="14" fill="#000"/>
<rect x="1094" y="285" width="3" height="12" fill="#00FF00"/>
<rect x="1103" y="271" width="1" height="49" fill="#000"/>
<rect x="1101" y="294" width="5" height="20" fill="#000"/>
<rect x="1102" y="295" width="3" height="18" fill="#00FF00"/>
<rect x="1111" y="296" width="1" height="36" fill="#000"/>
<rect x="1109" y="312" width="5" height="5" fill="#000"/>
<rect x="1110" y="313" width="3" height="3" fill="#00FF00"/>
<rect x="1119" y="266" width="1" height="57" fill="#000"/>
<rect x="1117" y="277" width="5" height="40" fill="#000"/>
<rect x="1118" y="278" width="3" height="38" fill="#FF0000"/>
<rect x="1127" y="271" width="1" height="54" fill="#000"/>
<rect x="1125" y="277" width="5" height="39" fill="#000"/>
<rect x="1126" y="278" width="3" height="37" fill="#00FF00"/>
<rect x="1135" y="309" width="1" height="16" fill="#000"/>
<rect x="1133" y="316" width="5" height="9" fill="#000"/>
<rect x="1134" y="317" width="3" height="7" fill="#00FF00"/>
<rect x="1143" y="306" width="1" height="19" fill="#000"/>
<rect x="1141" y="307" width="5" height="18" fill="#000"/>
<rect x="1142" y="308" width="3" height="16" fill="#FF0000"/>
<rect x="1151" y="255" width="1" height="64" fill="#000"/>
<rect x="1149" y="263" width="5" height="45" fill="#000"/>
<rect x="1150" y="264" width="3" height="43" fill="#FF0000"/>
<rect x="1159" y="224" width="1" height="45" fill="#000"/>
<rect x="1157" y="263" width="5" height="5" fill="#000"/>
<rect x="1158" y="264" width="3" height="3" fill="#00FF00"/>
<rect x="1167" y="263" width="1" height="39" fill="#000"/>
<rect x="1165" y="267" width="5" height="6" fill="#000"/>
<rect x="1166" y="268" width="3" height="4" fill="#00FF00"/>
<rect x="1175" y="249" width="1" height="56" fill="#000"/>
<rect x="1173" y="272" width="5" height="25" fill="#000"/>
<rect x="1174" y="273" width="3" height="23" fill="#00FF00"/>
<rect x="1183" y="284" width="1" height="30" fill="#000"/>
<rect x="1181" y="296" width="5" height="15" fill="#000"/>
<rect x="1182" y="297" width="3" height="13" fill="#00FF00"/>
<rect x="1191" y="284" width="1" height="50" fill="#000"/>
<rect x="1189" y="300" width="5" height="23" fill="#000"/>
<rect x="1190" y="301" width="3" height="21" fill="#00FF00"/>
<rect x="1199" y="309" width="1" height="23" fill="#000"/>
<rect x="1197" y="316" width="5" height="7" fill="#000"/>
<rect x="1198" y="317" width="3" height="5" fill="#FF0000"/>
<rect x="1207" y="303" width="1" height="56" fill="#000"/>
<rect x="1205" y="316" width="5" height="16" fill="#000"/>
<rect x="1206" y="317" width="3" height="14" fill="#00FF00"/>
<rect x="1215" y="309" width="1" height="34" fill="#000"/>
<rect x="1213" y="310" width="5" height="22" fill="#000"/>
<rect x="1214" y="311" width="3" height="20" fill="#FF0000"/>
<rect x="1223" y="309" width="1" height="10" fill="#000"/>
<rect x="1221" y="310" width="5" height="6" fill="#000"/>
<rect x="1222" y="311" width="3" height="4" fill="#00FF00"/>
<rect x="1231" y="314" width="1" height="14" fill="#000"/>
<rect x="1229" y="315" width="5" height="7" fill="#000"/>
<rect x="1230" y="316" width="3" height="5" fill="#00FF00"/>
<rect x="1239" y="312" width="1" height="43" fill="#000"/>
<rect x="1237" y="321" width="5" height="2" fill="#000"/>
<rect x="1247" y="299" width="1" height="33" fill="#000"/>
<rect x="1245" y="305" width="5" height="17" fill="#000"/>
<rect x="1246" y="306" width="3" height="15" fill="#FF0000"/>
<rect x="1255" y="269" width="1" height="42" fill="#000"/>
<rect x="1253" y="277" width="5" height="29" fill="#000"/>
<rect x="1254" y="278" width="3" height="27" fill="#FF0000"/>
<rect x="1263" y="230" width="1" height="50" fill="#000"/>
<rect x="1261" y="259" width="5" height="19" fill="#000"/>
<rect x="1262" y="260" width="3" height="17" fill="#FF0000"/>
<rect x="1271" y="242" width="1" height="36" fill="#000"/>
<rect x="1269" y="259" width="5" height="15" fill="#000"/>
<rect x="1270" y="260" width="3" height="13" fill="#00FF00"/>
<rect x="1279" y="264" width="1" height="13" fill="#000"/>
<rect x="1277" y="270" width="5" height="5" fill="#000"/>
<rect x="1278" y="271" width="3" height="3" fill="#00FF00"/>
<polyline points="-0.5,34.0 7.5,31.5 15.5,31.5 23.5,32.5 31.5,34.5 39.5,39.0 47.5,43.5 55.5,41.5 63.5,39.0 71.5,35.5 79.5,32.5 87.5,32.5 95.5,32.5 103.5,38.5 111.5,54.5 119.5,69.5 127.5,100.5 135.5,131.5 143.5,166.5 151.5,199.5 159.5,236.2 167.5,250.5 175.5,257.2 183.5,275.4 191.5,276.4 199.5,274.4 207.5,271.6 215.5,270.4 223.5,253.6 231.5,244.7 239.5,241.1 247.5,241.3 255.5,241.6 263.5,242.9 271.5,243.2 279.5,242.4 287.5,253.9 295.5,265.2 303.5,274.1 311.5,287.3 319.5,299.6 327.5,315.1 335.5,337.8 343.5,344.4 351.5,349.2 359.5,343.7 367.5,333.2 375.5,320.9 383.5,315.0 391.5,307.3 399.5,296.8 407.5,294.7 415.5,288.6 423.5,286.7 431.5,283.3 439.5,283.2 447.5,279.2 455.5,278.6 463.5,278.8 471.5,272.4 479.5,249.2 487.5,230.2 495.5,192.1 503.5,167.8 511.5,141.2 519.5,113.7 527.5,77.6 535.5,48.5 543.5,38.8 551.5,33.2 559.5,25.3 567.5,22.8 575.5,20.0 583.5,25.5 591.5,30.9 599.5,34.8 607.5,38.0 615.5,44.2 623.5,30.2 631.5,18.4 639.5,16.6 647.5,16.7 655.5,21.9 663.5,24.4 671.5,27.5 679.5,38.1 687.5,64.5 695.5,94.2 703.5,107.5 711.5,116.6 719.5,132.6 727.5,148.8 735.5,170.1 743.5,189.6 751.5,200.1 759.5,212.2 767.5,217.1 775.5,226.0 783.5,227.7 791.5,228.9 799.5,231.4 807.5,242.7 815.5,256.5 823.5,246.9 831.5,232.8 839.5,225.6 847.5,224.6 855.5,223.9 863.5,221.5 871.5,223.8 879.5,223.5 887.5,225.4 895.5,225.5 903.5,226.3 911.5,227.4 919.5,228.1 927.5,229.3 935.5,232.5 943.5,229.9 951.5,227.0 959.5,226.2 967.5,224.5 975.5,223.7 983.5,230.5 991.5,243.4 999.5,251.9 1007.5,256.6 1015.5,260.6 1023.5,267.8 1031.5,271.8 1039.5,276.7 1047.5,278.1 1055.5,277.8 1063.5,272.6 1071.5,272.1 1079.5,271.1 1087.5,266.9 1095.5,264.7 1103.5,265.1 1111.5,266.6 1119.5,263.5 1127.5,265.8 1135.5,267.1 1143.5,267.9 1151.5,261.7 1159.5,258.1 1167.5,255.1 1175.5,260.7 1183.5,260.6 1191.5,261.1 1199.5,261.4 1207.5,260.4 1215.5,261.7 1223.5,264.4 1231.5,264.3 1239.5,264.2 1247.5,266.3 1255.5,263.6 1263.5,256.7 1271.5,253.5 1279.5,253.0" fill="none" stroke="#3CB371" stroke-width="1"/>
<polyline points="-0.5,267.5 7.5,260.6 15.5,254.2 23.5,249.1 31.5,245.2 39.5,243.4 47.5,242.0 55.5,242.0 63.5,244.2 71.5,248.7 79.5,253.9 87.5,259.3 95.5,265.5 103.5,273.5 111.5,284.5 119.5,295.5 127.5,305.5 135.5,315.5 143.5,326.7 151.5,335.2 159.5,342.8 167.5,346.1 175.5,347.6 183.5,352.9 191.5,350.6 199.5,352.0 207.5,354.4 215.5,355.3 223.5,361.2 231.5,366.1 239.5,371.2 247.5,373.6 255.5,376.5 263.5,378.7 271.5,382.5 279.5,387.8 287.5,394.6 295.5,400.8 303.5,405.5 311.5,410.4 319.5,414.3 327.5,418.1 335.5,422.6 343.5,424.6 351.5,425.8 359.5,423.8 367.5,420.1 375.5,415.9 383.5,406.9 391.5,398.1 399.5,389.6 407.5,386.6 415.5,381.4 423.5,378.5 431.5,372.1 439.5,363.1 447.5,356.4 455.5,350.3 463.5,344.7 471.5,338.5 479.5,330.0 487.5,322.5 495.5,310.9 503.5,298.9 511.5,286.3 519.5,273.1 527.5,258.6 535.5,245.2 543.5,236.1 551.5,228.7 559.5,220.8 567.5,209.5 575.5,200.4 583.5,190.9 591.5,185.8 599.5,181.8 607.5,180.0 615.5,176.7 623.5,180.4 631.5,185.0 639.5,188.4 647.5,189.5 655.5,194.3 663.5,201.8 671.5,212.9 679.5,224.6 687.5,235.8 695.5,247.0 703.5,253.7 711.5,257.8 719.5,264.1 727.5,276.0 735.5,286.3 743.5,294.9 751.5,301.1 759.5,307.0 767.5,310.8 775.5,316.5 783.5,312.9 791.5,309.9 799.5,312.6 807.5,316.6 815.5,320.9 823.5,318.2 831.5,312.1 839.5,307.8 847.5,307.4 855.5,307.1 863.5,306.1 871.5,306.9 879.5,306.8 887.5,302.3 895.5,299.2 903.5,297.7 911.5,296.1 919.5,295.4 927.5,294.3 935.5,292.8 943.5,294.8 951.5,297.1 959.5,297.6 967.5,299.2 975.5,300.2 983.5,304.6 991.5,309.4 999.5,313.4 1007.5,315.5 1015.5,319.1 1023.5,321.1 1031.5,321.9 1039.5,323.0 1047.5,323.4 1055.5,323.4 1063.5,321.8 1071.5,321.6 1079.5,320.9 1087.5,319.1 1095.5,317.6 1103.5,315.7 1111.5,313.7 1119.5,310.1 1127.5,308.2 1135.5,307.4 1143.5,305.9 1151.5,302.9 1159.5,299.6 1167.5,297.4 1175.5,294.6 1183.5,295.0 1191.5,297.0 1199.5,298.2 1207.5,299.9 1215.5,301.1 1223.5,302.9 1231.5,303.7 1239.5,304.4 1247.5,305.4 1255.5,304.4 1263.5,301.7 1271.5,299.6 1279.5,299.4" fill="none" stroke="#3CB371" stroke-width="1"/>
<polyline points="-0.5,501.0 7.5,488.9 15.5,476.2 23.5,462.2 31.5,457.2 39.5,448.5 47.5,438.6 55.5,441.9 63.5,446.0 71.5,458.6 79.5,471.1 87.5,482.3 95.5,493.5 103.5,504.1 111.5,513.7 119.5,520.6 127.5,511.7 135.5,500.5 143.5,486.2 151.5,468.4 159.5,449.3 167.5,441.6 175.5,437.9 183.5,430.5 191.5,424.8 199.5,429.5 207.5,437.1 215.5,440.2 223.5,468.8 231.5,487.6 239.5,501.4 247.5,505.9 255.5,511.3 263.5,514.6 271.5,521.8 279.5,533.3 287.5,535.4 295.5,536.4 303.5,537.0 311.5,533.5 319.5,529.0 327.5,521.0 335.5,507.5 343.5,504.8 351.5,502.4 359.5,503.9 367.5,507.0 375.5,511.0 383.5,498.9 391.5,489.0 399.5,482.5 407.5,478.6 415.5,474.1 423.5,470.3 431.5,461.0 439.5,442.9 447.5,433.5 455.5,422.0 463.5,410.6 471.5,404.7 479.5,410.9 487.5,414.8 495.5,429.7 503.5,429.9 511.5,431.4 519.5,432.5 527.5,439.7 535.5,441.9 543.5,433.3 551.5,424.2 559.5,416.3 567.5,396.2 575.5,380.8 583.5,356.4 591.5,340.6 599.5,328.9 607.5,322.0 615.5,309.3 623.5,330.7 631.5,351.6 639.5,360.2 647.5,362.3 655.5,366.8 663.5,379.2 671.5,398.3 679.5,411.1 687.5,407.2 695.5,399.9 703.5,400.0 711.5,399.0 719.5,395.6 727.5,403.3 735.5,402.5 743.5,400.2 751.5,402.1 759.5,401.7 767.5,404.5 775.5,407.1 783.5,398.0 791.5,390.8 799.5,393.7 807.5,390.6 815.5,385.2 823.5,389.5 831.5,391.4 839.5,390.0 847.5,390.2 855.5,390.2 863.5,390.8 871.5,389.9 879.5,390.0 887.5,379.2 895.5,372.8 903.5,369.0 911.5,364.7 919.5,362.6 927.5,359.3 935.5,353.1 943.5,359.7 951.5,367.2 959.5,369.0 967.5,373.9 975.5,376.7 983.5,378.7 991.5,375.4 999.5,374.9 1007.5,374.4 1015.5,377.7 1023.5,374.3 1031.5,372.0 1039.5,369.4 1047.5,368.7 1055.5,368.9 1063.5,370.9 1071.5,371.0 1079.5,370.6 1087.5,371.3 1095.5,370.4 1103.5,366.3 1111.5,360.8 1119.5,356.7 1127.5,350.7 1135.5,347.6 1143.5,344.0 1151.5,344.0 1159.5,341.0 1167.5,339.6 1175.5,328.4 1183.5,329.4 1191.5,332.9 1199.5,335.0 1207.5,339.5 1215.5,340.5 1223.5,341.4 1231.5,343.1 1239.5,344.5 1247.5,344.5 1255.5,345.3 1263.5,346.7 1271.5,345.6 1279.5,345.8" fill="none" stroke="#3CB371" stroke-width="1"/>
<rect x="0" y="212" width="1618" height="2" fill="#FF0000"/>
<rect x="0" y="245" width="1618" height="2" fill="#FF0000"/>
<rect x="0" y="288" width="1618" height="2" fill="#FFA500"/>
<rect x="0" y="322" width="1618" height="2" fill="#0000FF"/>
<rect x="0" y="352" width="1618" height="2" fill="#0000FF"/>
</g>
<g shape-rendering="crispEdges">
<rect x="1611" y="210" width="6" height="6" fill="#FF0000"/>
<rect x="1613" y="212" width="2" height="2" fill="#fff"/>
<rect x="1611" y="286" width="6" height="6" fill="#FFA500"/>
<rect x="1613" y="288" width="2" height="2" fill="#fff"/>
<rect x="1611" y="320" width="6" height="6" fill="#0000FF"/>
<rect x="1613" y="322" width="2" height="2" fill="#fff"/>
<rect x="0" y="33" width="1" height="2" fill="#000"/>
<polygon points="1285,28 1296,28 1290.5,33.5" fill="#000"/>
<rect x="0" y="27" width="1618" height="1" fill="#000"/>
<rect x="1617" y="27" width="1" height="788" fill="#000"/>
<rect x="0" y="553" width="1618" height="1" fill="#000"/>
<rect x="0" y="555" width="1618" height="1" fill="#000"/>
<rect x="0" y="691" width="1618" height="1" fill="#000"/>
<rect x="0" y="693" width="1618" height="1" fill="#000"/>
<rect x="0" y="814" width="1619" height="1" fill="#000"/>
<rect x="1663" y="23" width="1" height="809" fill="#F0F0F0"/>
<rect x="1617" y="212" width="2" height="2" fill="#FF0000"/>
<rect x="1617" y="245" width="2" height="2" fill="#FF0000"/>
<rect x="1617" y="288" width="2" height="2" fill="#FFA500"/>
<rect x="1617" y="322" width="2" height="2" fill="#0000FF"/>
<rect x="1617" y="352" width="2" height="2" fill="#0000FF"/>
<rect x="1618" y="55" width="2" height="1" fill="#000"/>
<rect x="1618" y="88" width="2" height="1" fill="#000"/>
<rect x="1618" y="121" width="2" height="1" fill="#000"/>
<rect x="1618" y="154" width="2" height="1" fill="#000"/>
<rect x="1618" y="187" width="2" height="1" fill="#000"/>
<rect x="1618" y="220" width="2" height="1" fill="#000"/>
<rect x="1618" y="253" width="2" height="1" fill="#000"/>
<rect x="1618" y="286" width="2" height="1" fill="#000"/>
<rect x="1618" y="319" width="2" height="1" fill="#000"/>
<rect x="1618" y="352" width="2" height="1" fill="#000"/>
<rect x="1618" y="385" width="2" height="1" fill="#000"/>
<rect x="1618" y="418" width="2" height="1" fill="#000"/>
<rect x="1618" y="451" width="2" height="1" fill="#000"/>
<rect x="1618" y="484" width="2" height="1" fill="#000"/>
<rect x="1618" y="517" width="2" height="1" fill="#000"/>
<rect x="1618" y="550" width="2" height="1" fill="#000"/>
</g>
<text x="1623" y="59" font-size="10" fill="#000" textLength="32.6" lengthAdjust="spacingAndGlyphs">6.78420</text>
<text x="1623" y="92" font-size="10" fill="#000" textLength="32.6" lengthAdjust="spacingAndGlyphs">6.77280</text>
<text x="1623" y="125" font-size="10" fill="#000" textLength="32.6" lengthAdjust="spacingAndGlyphs">6.76140</text>
<text x="1623" y="158" font-size="10" fill="#000" textLength="32.6" lengthAdjust="spacingAndGlyphs">6.75000</text>
<text x="1623" y="191" font-size="10" fill="#000" textLength="32.6" lengthAdjust="spacingAndGlyphs">6.73860</text>
<text x="1623" y="224" font-size="10" fill="#000" textLength="32.6" lengthAdjust="spacingAndGlyphs">6.72720</text>
<text x="1623" y="257" font-size="10" fill="#000" textLength="32.6" lengthAdjust="spacingAndGlyphs">6.71580</text>
<text x="1623" y="323" font-size="10" fill="#000" textLength="32.6" lengthAdjust="spacingAndGlyphs">6.69300</text>
<text x="1623" y="356" font-size="10" fill="#000" textLength="32.6" lengthAdjust="spacingAndGlyphs">6.68160</text>
<text x="1623" y="389" font-size="10" fill="#000" textLength="32.6" lengthAdjust="spacingAndGlyphs">6.66990</text>
<text x="1623" y="422" font-size="10" fill="#000" textLength="32.6" lengthAdjust="spacingAndGlyphs">6.65850</text>
<text x="1623" y="455" font-size="10" fill="#000" textLength="32.6" lengthAdjust="spacingAndGlyphs">6.64710</text>
<text x="1623" y="488" font-size="10" fill="#000" textLength="32.6" lengthAdjust="spacingAndGlyphs">6.63570</text>
<text x="1623" y="521" font-size="10" fill="#000" textLength="32.6" lengthAdjust="spacingAndGlyphs">6.62430</text>
<text x="1623" y="554" font-size="10" fill="#000" textLength="32.6" lengthAdjust="spacingAndGlyphs">6.61290</text>
<g shape-rendering="crispEdges">
<rect x="1619" y="207" width="41" height="11" fill="#FF0000"/>
<rect x="1619" y="240" width="41" height="11" fill="#FF0000"/>
<rect x="1619" y="269" width="41" height="11" fill="#000"/>
<rect x="1619" y="283" width="41" height="11" fill="#FFA500"/>
<rect x="1619" y="317" width="41" height="11" fill="#0000FF"/>
<rect x="1619" y="347" width="41" height="11" fill="#0000FF"/>
</g>
<text x="1623" y="216" font-size="10" fill="#fff" textLength="32.6" lengthAdjust="spacingAndGlyphs">6.72948</text>
<text x="1623" y="249" font-size="10" fill="#fff" textLength="32.6" lengthAdjust="spacingAndGlyphs">6.71807</text>
<text x="1623" y="278" font-size="10" fill="#fff" textLength="32.6" lengthAdjust="spacingAndGlyphs">6.70825</text>
<text x="1623" y="292" font-size="10" fill="#fff" textLength="32.6" lengthAdjust="spacingAndGlyphs">6.70322</text>
<text x="1623" y="326" font-size="10" fill="#fff" textLength="32.6" lengthAdjust="spacingAndGlyphs">6.69147</text>
<text x="1623" y="356" font-size="10" fill="#fff" textLength="32.6" lengthAdjust="spacingAndGlyphs">6.68100</text>
<g clip-path="url(#cmacd)" shape-rendering="crispEdges">
<rect x="-2" y="594" width="3" height="46" fill="#00FF00"/>
<rect x="6" y="601" width="3" height="39" fill="#00FF00"/>
<rect x="14" y="609" width="3" height="31" fill="#00FF00"/>
<rect x="22" y="615" width="3" height="25" fill="#00FF00"/>
<rect x="30" y="633" width="3" height="7" fill="#00FF00"/>
<rect x="38" y="640" width="3" height="7" fill="#00FF00"/>
<rect x="46" y="640" width="3" height="16" fill="#00FF00"/>
<rect x="54" y="640" width="3" height="25" fill="#00FF00"/>
<rect x="62" y="640" width="3" height="31" fill="#00FF00"/>
<rect x="70" y="640" width="3" height="36" fill="#00FF00"/>
<rect x="78" y="640" width="3" height="37" fill="#00FF00"/>
<rect x="86" y="640" width="3" height="38" fill="#00FF00"/>
<rect x="94" y="640" width="3" height="39" fill="#00FF00"/>
<rect x="102" y="640" width="3" height="38" fill="#00FF00"/>
<rect x="110" y="640" width="3" height="38" fill="#00FF00"/>
<rect x="118" y="640" width="3" height="37" fill="#00FF00"/>
<rect x="126" y="640" width="3" height="29" fill="#00FF00"/>
<rect x="134" y="640" width="3" height="24" fill="#00FF00"/>
<rect x="142" y="640" width="3" height="21" fill="#00FF00"/>
<rect x="150" y="640" width="3" height="17" fill="#00FF00"/>
<rect x="158" y="640" width="3" height="14" fill="#00FF00"/>
<rect x="166" y="640" width="3" height="10" fill="#00FF00"/>
<rect x="174" y="640" width="3" height="6" fill="#00FF00"/>
<rect x="182" y="640" width="3" height="8" fill="#00FF00"/>
<rect x="190" y="640" width="3" height="10" fill="#00FF00"/>
<rect x="198" y="640" width="3" height="17" fill="#00FF00"/>
<rect x="206" y="640" width="3" height="22" fill="#00FF00"/>
<rect x="214" y="640" width="3" height="26" fill="#00FF00"/>
<rect x="222" y="640" width="3" height="36" fill="#00FF00"/>
<rect x="230" y="640" width="3" height="43" fill="#00FF00"/>
<rect x="238" y="640" width="3" height="44" fill="#00FF00"/>
<rect x="246" y="640" width="3" height="43" fill="#00FF00"/>
<rect x="254" y="640" width="3" height="42" fill="#00FF00"/>
<rect x="262" y="640" width="3" height="38" fill="#00FF00"/>
<rect x="270" y="640" width="3" height="38" fill="#00FF00"/>
<rect x="278" y="640" width="3" height="40" fill="#00FF00"/>
<rect x="286" y="640" width="3" height="38" fill="#00FF00"/>
<rect x="294" y="640" width="3" height="35" fill="#00FF00"/>
<rect x="302" y="640" width="3" height="31" fill="#00FF00"/>
<rect x="310" y="640" width="3" height="27" fill="#00FF00"/>
<rect x="318" y="640" width="3" height="22" fill="#00FF00"/>
<rect x="326" y="640" width="3" height="16" fill="#00FF00"/>
<rect x="334" y="640" width="3" height="12" fill="#00FF00"/>
<rect x="342" y="640" width="3" height="10" fill="#00FF00"/>
<rect x="350" y="640" width="3" height="6" fill="#00FF00"/>
<rect x="358" y="640" width="3" height="4" fill="#00FF00"/>
<rect x="366" y="639" width="3" height="1" fill="#00FF00"/>
<rect x="374" y="634" width="3" height="6" fill="#00FF00"/>
<rect x="382" y="631" width="3" height="9" fill="#00FF00"/>
<rect x="390" y="627" width="3" height="13" fill="#00FF00"/>
<rect x="398" y="623" width="3" height="17" fill="#00FF00"/>
<rect x="406" y="625" width="3" height="15" fill="#00FF00"/>
<rect x="414" y="624" width="3" height="16" fill="#00FF00"/>
<rect x="422" y="625" width="3" height="15" fill="#00FF00"/>
<rect x="430" y="624" width="3" height="16" fill="#00FF00"/>
<rect x="438" y="621" width="3" height="19" fill="#00FF00"/>
<rect x="446" y="619" width="3" height="21" fill="#00FF00"/>
<rect x="454" y="619" width="3" height="21" fill="#00FF00"/>
<rect x="462" y="618" width="3" height="22" fill="#00FF00"/>
<rect x="470" y="616" width="3" height="24" fill="#00FF00"/>
<rect x="478" y="609" width="3" height="31" fill="#00FF00"/>
<rect x="486" y="604" width="3" height="36" fill="#00FF00"/>
<rect x="494" y="594" width="3" height="46" fill="#00FF00"/>
<rect x="502" y="588" width="3" height="52" fill="#00FF00"/>
<rect x="510" y="582" width="3" height="58" fill="#00FF00"/>
<rect x="518" y="576" width="3" height="64" fill="#00FF00"/>
<rect x="526" y="568" width="3" height="72" fill="#00FF00"/>
<rect x="534" y="563" width="3" height="77" fill="#00FF00"/>
<rect x="542" y="566" width="3" height="74" fill="#00FF00"/>
<rect x="550" y="572" width="3" height="68" fill="#00FF00"/>
<rect x="558" y="577" width="3" height="63" fill="#00FF00"/>
<rect x="566" y="578" width="3" height="62" fill="#00FF00"/>
<rect x="574" y="582" width="3" height="58" fill="#00FF00"/>
<rect x="582" y="587" width="3" height="53" fill="#00FF00"/>
<rect x="590" y="596" width="3" height="44" fill="#00FF00"/>
<rect x="598" y="603" width="3" height="37" fill="#00FF00"/>
<rect x="606" y="614" width="3" height="26" fill="#00FF00"/>
<rect x="614" y="620" width="3" height="20" fill="#00FF00"/>
<rect x="622" y="637" width="3" height="3" fill="#00FF00"/>
<rect x="630" y="640" width="3" height="10" fill="#00FF00"/>
<rect x="638" y="640" width="3" height="12" fill="#00FF00"/>
<rect x="646" y="640" width="3" height="11" fill="#00FF00"/>
<rect x="654" y="640" width="3" height="9" fill="#00FF00"/>
<rect x="662" y="640" width="3" height="12" fill="#00FF00"/>
<rect x="670" y="640" width="3" height="18" fill="#00FF00"/>
<rect x="678" y="640" width="3" height="23" fill="#00FF00"/>
<rect x="686" y="640" width="3" height="21" fill="#00FF00"/>
<rect x="694" y="640" width="3" height="20" fill="#00FF00"/>
<rect x="702" y="640" width="3" height="18" fill="#00FF00"/>
<rect x="710" y="640" width="3" height="15" fill="#00FF00"/>
<rect x="718" y="640" width="3" height="12" fill="#00FF00"/>
<rect x="726" y="640" width="3" height="20" fill="#00FF00"/>
<rect x="734" y="640" width="3" height="24" fill="#00FF00"/>
<rect x="742" y="640" width="3" height="26" fill="#00FF00"/>
<rect x="750" y="640" width="3" height="27" fill="#00FF00"/>
<rect x="758" y="640" width="3" height="27" fill="#00FF00"/>
<rect x="766" y="640" width="3" height="27" fill="#00FF00"/>
<rect x="774" y="640" width="3" height="28" fill="#00FF00"/>
<rect x="782" y="640" width="3" height="25" fill="#00FF00"/>
<rect x="790" y="640" width="3" height="22" fill="#00FF00"/>
<rect x="798" y="640" width="3" height="22" fill="#00FF00"/>
<rect x="806" y="640" width="3" height="20" fill="#00FF00"/>
<rect x="814" y="640" width="3" height="18" fill="#00FF00"/>
<rect x="822" y="640" width="3" height="11" fill="#00FF00"/>
<rect x="830" y="640" width="3" height="3" fill="#00FF00"/>
<rect x="838" y="638" width="3" height="2" fill="#00FF00"/>
<rect x="846" y="637" width="3" height="3" fill="#00FF00"/>
<rect x="854" y="636" width="3" height="4" fill="#00FF00"/>
<rect x="862" y="635" width="3" height="5" fill="#00FF00"/>
<rect x="870" y="633" width="3" height="7" fill="#00FF00"/>
<rect x="878" y="633" width="3" height="7" fill="#00FF00"/>
<rect x="886" y="634" width="3" height="6" fill="#00FF00"/>
<rect x="894" y="636" width="3" height="4" fill="#00FF00"/>
<rect x="902" y="638" width="3" height="2" fill="#00FF00"/>
<rect x="910" y="640" width="3" height="1" fill="#00FF00"/>
<rect x="918" y="640" width="3" height="4" fill="#00FF00"/>
<rect x="926" y="640" width="3" height="6" fill="#00FF00"/>
<rect x="934" y="640" width="3" height="8" fill="#00FF00"/>
<rect x="942" y="640" width="3" height="11" fill="#00FF00"/>
<rect x="950" y="640" width="3" height="14" fill="#00FF00"/>
<rect x="958" y="640" width="3" height="16" fill="#00FF00"/>
<rect x="966" y="640" width="3" height="17" fill="#00FF00"/>
<rect x="974" y="640" width="3" height="17" fill="#00FF00"/>
<rect x="982" y="640" width="3" height="17" fill="#00FF00"/>
<rect x="990" y="640" width="3" height="14" fill="#00FF00"/>
<rect x="998" y="640" width="3" height="13" fill="#00FF00"/>
<rect x="1006" y="640" width="3" height="12" fill="#00FF00"/>
<rect x="1014" y="640" width="3" height="13" fill="#00FF00"/>
<rect x="1022" y="640" width="3" height="10" fill="#00FF00"/>
<rect x="1030" y="640" width="3" height="6" fill="#00FF00"/>
<rect x="1038" y="640" width="3" height="3" fill="#00FF00"/>
<rect x="1046" y="640" width="3" height="1" fill="#00FF00"/>
<rect x="1054" y="638" width="3" height="2" fill="#00FF00"/>
<rect x="1062" y="636" width="3" height="4" fill="#00FF00"/>
<rect x="1070" y="636" width="3" height="4" fill="#00FF00"/>
<rect x="1078" y="637" width="3" height="3" fill="#00FF00"/>
<rect x="1086" y="635" width="3" height="5" fill="#00FF00"/>
<rect x="1094" y="635" width="3" height="5" fill="#00FF00"/>
<rect x="1102" y="637" width="3" height="3" fill="#00FF00"/>
<rect x="1110" y="637" width="3" height="3" fill="#00FF00"/>
<rect x="1118" y="637" width="3" height="3" fill="#00FF00"/>
<rect x="1126" y="638" width="3" height="2" fill="#00FF00"/>
<rect x="1134" y="640" width="3" height="1" fill="#00FF00"/>
<rect x="1142" y="640" width="3" height="1" fill="#00FF00"/>
<rect x="1150" y="637" width="3" height="3" fill="#00FF00"/>
<rect x="1158" y="633" width="3" height="7" fill="#00FF00"/>
<rect x="1166" y="632" width="3" height="8" fill="#00FF00"/>
<rect x="1174" y="633" width="3" height="7" fill="#00FF00"/>
<rect x="1182" y="636" width="3" height="4" fill="#00FF00"/>
<rect x="1190" y="639" width="3" height="1" fill="#00FF00"/>
<rect x="1198" y="640" width="3" height="1" fill="#00FF00"/>
<rect x="1206" y="640" width="3" height="3" fill="#00FF00"/>
<rect x="1214" y="640" width="3" height="3" fill="#00FF00"/>
<rect x="1222" y="640" width="3" height="4" fill="#00FF00"/>
<rect x="1230" y="640" width="3" height="5" fill="#00FF00"/>
<rect x="1238" y="640" width="3" height="5" fill="#00FF00"/>
<rect x="1246" y="640" width="3" height="4" fill="#00FF00"/>
<rect x="1254" y="640" width="3" height="1" fill="#00FF00"/>
<rect x="1262" y="636" width="3" height="4" fill="#00FF00"/>
<rect x="1270" y="634" width="3" height="6" fill="#00FF00"/>
<rect x="1278" y="633" width="3" height="7" fill="#00FF00"/>
<polyline points="-0.5,618.0 7.5,612.0 15.5,606.8 23.5,605.0 31.5,605.0 39.5,608.0 47.5,615.0 55.5,623.0 63.5,632.7 71.5,641.2 79.5,648.7 87.5,656.3 95.5,663.5 103.5,668.4 111.5,671.8 119.5,674.2 127.5,674.7 135.5,673.9 143.5,672.3 151.5,670.0 159.5,667.4 167.5,664.1 175.5,660.6 183.5,657.2 191.5,654.2 199.5,652.8 207.5,652.6 215.5,653.1 223.5,655.2 231.5,658.5 239.5,662.4 247.5,666.5 255.5,670.3 263.5,673.4 271.5,675.7 279.5,677.7 287.5,679.1 295.5,679.0 303.5,677.6 311.5,675.7 319.5,673.3 327.5,670.4 335.5,667.5 343.5,664.4 351.5,660.7 359.5,656.9 367.5,653.0 375.5,648.9 383.5,644.9 391.5,641.8 399.5,638.8 407.5,635.9 415.5,633.1 423.5,630.7 431.5,628.4 439.5,626.4 447.5,624.8 455.5,623.4 463.5,622.4 471.5,621.6 479.5,619.9 487.5,617.7 495.5,614.2 503.5,610.3 511.5,605.9 519.5,601.1 527.5,595.5 535.5,589.4 543.5,583.8 551.5,579.7 559.5,576.7 567.5,574.9 575.5,574.2 583.5,574.8 591.5,577.1 599.5,580.9 607.5,586.6 615.5,592.6 623.5,599.8 631.5,607.9 639.5,616.2 647.5,623.8 655.5,630.6 663.5,636.8 671.5,642.1 679.5,647.0 687.5,651.6 695.5,654.2 703.5,655.2 711.5,655.4 719.5,655.7 727.5,657.0 735.5,658.3 743.5,659.1 751.5,659.5 759.5,660.1 767.5,660.9 775.5,661.9 783.5,662.9 791.5,664.0 799.5,664.1 807.5,663.7 815.5,662.9 823.5,661.1 831.5,658.4 839.5,655.2 847.5,651.8 855.5,648.6 863.5,645.6 871.5,642.9 879.5,640.5 887.5,638.3 895.5,636.7 903.5,636.1 911.5,636.4 919.5,637.1 927.5,638.2 935.5,639.4 943.5,641.0 951.5,642.8 959.5,644.8 967.5,647.0 975.5,649.0 983.5,650.9 991.5,652.1 999.5,652.9 1007.5,653.4 1015.5,653.7 1023.5,653.2 1031.5,652.1 1039.5,650.6 1047.5,648.7 1055.5,646.6 1063.5,644.7 1071.5,643.1 1079.5,641.7 1087.5,640.1 1095.5,638.8 1103.5,637.9 1111.5,637.3 1119.5,636.9 1127.5,636.9 1135.5,637.4 1143.5,637.8 1151.5,637.8 1159.5,637.6 1167.5,637.3 1175.5,636.9 1183.5,636.9 1191.5,637.1 1199.5,637.3 1207.5,637.6 1215.5,637.9 1223.5,638.6 1231.5,639.6 1239.5,640.7 1247.5,641.7 1255.5,642.1 1263.5,641.8 1271.5,641.3 1279.5,640.5" fill="none" stroke="#FF0000" stroke-width="2"/>
</g>
<g shape-rendering="crispEdges">
<rect x="1618" y="557" width="1" height="1" fill="#000"/>
<rect x="1618" y="640" width="2" height="1" fill="#000"/>
<rect x="1618" y="689" width="1" height="1" fill="#000"/>
</g>
<text x="1621.3" y="566" font-size="10" fill="#000" textLength="37.6" lengthAdjust="spacingAndGlyphs">0.027633</text>
<text x="1621.3" y="644" font-size="10" fill="#000" textLength="17.8" lengthAdjust="spacingAndGlyphs">0.00</text>
<text x="1621.3" y="688" font-size="10" fill="#000" textLength="40.9" lengthAdjust="spacingAndGlyphs">-0.016736</text>
<g clip-path="url(#crsi)" shape-rendering="crispEdges">
<line x1="0" x2="1617" y1="718.5" y2="718.5" stroke="#000" stroke-width="1" stroke-dasharray="3 3" stroke-dashoffset="2"/>
<line x1="0" x2="1617" y1="754.5" y2="754.5" stroke="#000" stroke-width="1" stroke-dasharray="3 3" stroke-dashoffset="2"/>
<line x1="0" x2="1617" y1="796.5" y2="796.5" stroke="#000" stroke-width="1" stroke-dasharray="3 3" stroke-dashoffset="2"/>
<polyline points="-0.5,739.5 7.5,754.5 15.5,757.0 23.5,757.0 31.5,774.0 39.5,770.0 47.5,770.0 55.5,771.0 63.5,771.0 71.5,771.0 79.5,767.0 87.5,767.0 95.5,766.2 103.5,766.0 111.5,766.0 119.5,765.8 127.5,750.8 135.5,752.0 143.5,755.8 151.5,752.8 159.5,752.8 167.5,750.0 175.5,747.5 183.5,760.8 191.5,760.8 199.5,770.0 207.5,771.2 215.5,770.0 223.5,780.0 231.5,776.2 239.5,772.5 247.5,762.8 255.5,764.0 263.5,760.5 271.5,765.0 279.5,769.0 287.5,760.0 295.5,759.5 303.5,758.2 311.5,755.0 319.5,752.5 327.5,750.0 335.5,750.0 343.5,753.8 351.5,751.2 359.5,749.5 367.5,745.0 375.5,742.0 383.5,742.0 391.5,740.8 399.5,737.8 407.5,753.2 415.5,746.5 423.5,752.0 431.5,746.5 439.5,743.0 447.5,743.0 455.5,744.8 463.5,744.8 471.5,740.0 479.5,732.0 487.5,732.0 495.5,724.5 503.5,727.0 511.5,725.2 519.5,723.5 527.5,719.5 535.5,719.5 543.5,739.0 551.5,744.0 559.5,740.8 567.5,740.5 575.5,740.8 583.5,745.8 591.5,755.0 599.5,755.0 607.5,762.0 615.5,758.8 623.5,773.8 631.5,772.5 639.5,759.0 647.5,752.8 655.5,752.8 663.5,761.5 671.5,766.0 679.5,765.0 687.5,757.0 695.5,757.0 703.5,756.8 711.5,752.5 719.5,755.0 727.5,767.0 735.5,763.2 743.5,762.8 751.5,762.0 759.5,761.5 767.5,760.8 775.5,764.0 783.5,756.0 791.5,756.0 799.5,760.0 807.5,757.5 815.5,757.0 823.5,744.8 831.5,743.8 839.5,747.8 847.5,751.5 855.5,752.0 863.5,749.8 871.5,750.2 879.5,751.0 887.5,754.5 895.5,755.0 903.5,758.8 911.5,758.8 919.5,760.8 927.5,760.8 935.5,762.0 943.5,767.5 951.5,767.8 959.5,766.8 967.5,766.8 975.5,763.2 983.5,761.5 991.5,757.8 999.5,760.0 1007.5,755.0 1015.5,764.2 1023.5,750.2 1031.5,746.5 1039.5,748.5 1047.5,749.8 1055.5,747.2 1063.5,745.8 1071.5,753.5 1079.5,753.5 1087.5,747.5 1095.5,751.2 1103.5,756.5 1111.5,756.8 1119.5,746.5 1127.5,757.8 1135.5,758.0 1143.5,754.5 1151.5,744.8 1159.5,746.5 1167.5,747.0 1175.5,752.8 1183.5,756.5 1191.5,759.5 1199.5,758.8 1207.5,761.0 1215.5,756.8 1223.5,757.1 1231.5,758.8 1239.5,758.8 1247.5,753.5 1255.5,745.2 1263.5,741.6 1271.5,746.0 1279.5,746.0" fill="none" stroke="#1E90FF" stroke-width="2"/>
</g>
<g shape-rendering="crispEdges">
<rect x="1618" y="695" width="1" height="1" fill="#000"/>
<rect x="1618" y="813" width="1" height="1" fill="#000"/>
</g>
<text x="1621.3" y="704" font-size="10" fill="#000" textLength="14.9" lengthAdjust="spacingAndGlyphs">100</text>
<text x="1621.3" y="722" font-size="10" fill="#000" textLength="9.9" lengthAdjust="spacingAndGlyphs">80</text>
<text x="1621.3" y="758" font-size="10" fill="#000" textLength="9.9" lengthAdjust="spacingAndGlyphs">50</text>
<text x="1621.3" y="800" font-size="10" fill="#000" textLength="9.9" lengthAdjust="spacingAndGlyphs">15</text>
<text x="1621.3" y="811.5" font-size="10" fill="#000" textLength="5.0" lengthAdjust="spacingAndGlyphs">0</text>
<g shape-rendering="crispEdges">
<rect x="-9" y="815" width="1" height="3" fill="#000"/>
<rect x="55" y="815" width="1" height="3" fill="#000"/>
<rect x="119" y="815" width="1" height="3" fill="#000"/>
<rect x="183" y="815" width="1" height="3" fill="#000"/>
<rect x="247" y="815" width="1" height="3" fill="#000"/>
<rect x="311" y="815" width="1" height="3" fill="#000"/>
<rect x="375" y="815" width="1" height="3" fill="#000"/>
<rect x="439" y="815" width="1" height="3" fill="#000"/>
<rect x="503" y="815" width="1" height="3" fill="#000"/>
<rect x="567" y="815" width="1" height="3" fill="#000"/>
<rect x="631" y="815" width="1" height="3" fill="#000"/>
<rect x="695" y="815" width="1" height="3" fill="#000"/>
<rect x="759" y="815" width="1" height="3" fill="#000"/>
<rect x="823" y="815" width="1" height="3" fill="#000"/>
<rect x="887" y="815" width="1" height="3" fill="#000"/>
<rect x="951" y="815" width="1" height="3" fill="#000"/>
<rect x="1015" y="815" width="1" height="3" fill="#000"/>
<rect x="1079" y="815" width="1" height="3" fill="#000"/>
<rect x="1143" y="815" width="1" height="3" fill="#000"/>
<rect x="1207" y="815" width="1" height="3" fill="#000"/>
<rect x="1271" y="815" width="1" height="3" fill="#000"/>
</g>
<text x="3.3" y="827" font-size="10" fill="#000" textLength="41.2" lengthAdjust="spacingAndGlyphs">May 2022</text>
<text x="54.3" y="827" font-size="10" fill="#000" textLength="57" lengthAdjust="spacingAndGlyphs">30 May 12:00</text>
<text x="118.3" y="827" font-size="10" fill="#000" textLength="57" lengthAdjust="spacingAndGlyphs">31 May 20:00</text>
<text x="182.3" y="827" font-size="10" fill="#000" textLength="47.5" lengthAdjust="spacingAndGlyphs">2 Jun 04:00</text>
<text x="246.3" y="827" font-size="10" fill="#000" textLength="47.5" lengthAdjust="spacingAndGlyphs">3 Jun 12:00</text>
<text x="310.3" y="827" font-size="10" fill="#000" textLength="47.5" lengthAdjust="spacingAndGlyphs">7 Jun 00:00</text>
<text x="374.3" y="827" font-size="10" fill="#000" textLength="47.5" lengthAdjust="spacingAndGlyphs">8 Jun 08:00</text>
<text x="438.3" y="827" font-size="10" fill="#000" textLength="47.5" lengthAdjust="spacingAndGlyphs">9 Jun 16:00</text>
<text x="502.3" y="827" font-size="10" fill="#000" textLength="52.5" lengthAdjust="spacingAndGlyphs">13 Jun 04:00</text>
<text x="566.3" y="827" font-size="10" fill="#000" textLength="52.5" lengthAdjust="spacingAndGlyphs">14 Jun 12:00</text>
<text x="630.3" y="827" font-size="10" fill="#000" textLength="52.5" lengthAdjust="spacingAndGlyphs">15 Jun 20:00</text>
<text x="694.3" y="827" font-size="10" fill="#000" textLength="52.5" lengthAdjust="spacingAndGlyphs">17 Jun 04:00</text>
<text x="758.3" y="827" font-size="10" fill="#000" textLength="52.5" lengthAdjust="spacingAndGlyphs">20 Jun 16:00</text>
<text x="822.3" y="827" font-size="10" fill="#000" textLength="52.5" lengthAdjust="spacingAndGlyphs">22 Jun 00:00</text>
<text x="886.3" y="827" font-size="10" fill="#000" textLength="52.5" lengthAdjust="spacingAndGlyphs">23 Jun 08:00</text>
<text x="950.3" y="827" font-size="10" fill="#000" textLength="52.5" lengthAdjust="spacingAndGlyphs">24 Jun 16:00</text>
<text x="1014.3" y="827" font-size="10" fill="#000" textLength="52.5" lengthAdjust="spacingAndGlyphs">28 Jun 04:00</text>
<text x="1078.3" y="827" font-size="10" fill="#000" textLength="52.5" lengthAdjust="spacingAndGlyphs">29 Jun 12:00</text>
<text x="1142.3" y="827" font-size="10" fill="#000" textLength="52.5" lengthAdjust="spacingAndGlyphs">30 Jun 20:00</text>
<text x="1206.3" y="827" font-size="10" fill="#000" textLength="44.4" lengthAdjust="spacingAndGlyphs">4 Jul 08:00</text>
<text x="1270.3" y="827" font-size="10" fill="#000" textLength="44.4" lengthAdjust="spacingAndGlyphs">5 Jul 16:00</text>
<text x="6" y="39" font-size="10" fill="#000" textLength="58.5" lengthAdjust="spacingAndGlyphs">USDCNH-,H4</text>
<text x="71" y="39" font-size="10" fill="#000" textLength="32.6" lengthAdjust="spacingAndGlyphs">6.70971</text>
<text x="107" y="39" font-size="10" fill="#000" textLength="32.6" lengthAdjust="spacingAndGlyphs">6.71204</text>
<text x="143" y="39" font-size="10" fill="#000" textLength="32.6" lengthAdjust="spacingAndGlyphs">6.70777</text>
<text x="179" y="39" font-size="10" fill="#000" textLength="32.6" lengthAdjust="spacingAndGlyphs">6.70825</text>
<text x="-6" y="568" font-size="10" fill="#000" textLength="66.6" lengthAdjust="spacingAndGlyphs">MACD(12,26,9)</text>
<text x="64.4" y="568" font-size="10" fill="#000" textLength="37.6" lengthAdjust="spacingAndGlyphs">0.002241</text>
<text x="105.3" y="568" font-size="10" fill="#000" textLength="40.9" lengthAdjust="spacingAndGlyphs">-0.000001</text>
<text x="-5" y="706" font-size="10" fill="#000" textLength="31.4" lengthAdjust="spacingAndGlyphs">RSI(14)</text>
<text x="30.3" y="706" font-size="10" fill="#000" textLength="32.6" lengthAdjust="spacingAndGlyphs">56.3495</text>
</svg>
</body></html>
